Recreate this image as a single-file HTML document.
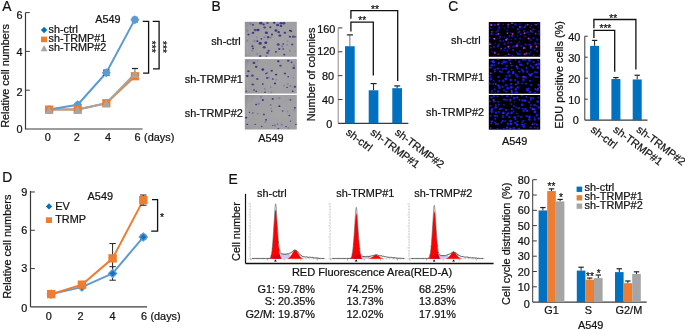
<!DOCTYPE html>
<html><head><meta charset="utf-8"><title>Figure</title>
<style>
html,body{margin:0;padding:0;background:#fff;}
body{width:685px;height:330px;overflow:hidden;}
svg{display:block;font-family:"Liberation Sans", Arial, sans-serif;}
text{stroke:#111;stroke-width:0.22px;paint-order:stroke;}
</style></head><body>
<svg width="685" height="330" viewBox="0 0 685 330">
<rect width="685" height="330" fill="#fff"/>
<text x="2.2" y="11.0" font-size="13.8" text-anchor="start" fill="#111" >A</text>
<text transform="translate(9.3,76.0) rotate(-90)" font-size="10.85" text-anchor="middle" fill="#111" >Relative cell numbers</text>
<line x1="25.5" y1="12.6" x2="25.5" y2="129.5" stroke="#3a3a3a" stroke-width="1.2" />
<line x1="25.5" y1="129.0" x2="142.6" y2="129.0" stroke="#3a3a3a" stroke-width="1.2" />
<text x="22.6" y="133.0" font-size="10.9" text-anchor="end" fill="#111" >0</text>
<line x1="25.5" y1="90.2" x2="29.8" y2="90.2" stroke="#3a3a3a" stroke-width="1" />
<text x="22.6" y="96.2" font-size="10.9" text-anchor="end" fill="#111" >2</text>
<line x1="25.5" y1="51.400000000000006" x2="29.8" y2="51.400000000000006" stroke="#3a3a3a" stroke-width="1" />
<text x="22.6" y="56.400000000000006" font-size="10.9" text-anchor="end" fill="#111" >4</text>
<line x1="25.5" y1="12.600000000000009" x2="29.8" y2="12.600000000000009" stroke="#3a3a3a" stroke-width="1" />
<text x="22.6" y="18.60000000000001" font-size="10.9" text-anchor="end" fill="#111" >6</text>
<text x="47.8" y="140.8" font-size="10.9" text-anchor="middle" fill="#111" >0</text>
<text x="76.9" y="140.8" font-size="10.9" text-anchor="middle" fill="#111" >2</text>
<text x="108.0" y="140.8" font-size="10.9" text-anchor="middle" fill="#111" >4</text>
<text x="137.5" y="140.8" font-size="10.9" text-anchor="middle" fill="#111" >6</text>
<text x="144.0" y="140.8" font-size="10.9" text-anchor="start" fill="#111" >(days)</text>
<path d="M49.10,109.60 L77.70,109.60 L106.30,103.20 L134.90,76.23" fill="none" stroke="#ed7d31" stroke-width="2" stroke-linejoin="round"/>
<path d="M49.10,109.60 L77.70,109.60 L106.30,103.20 L134.90,73.71" fill="none" stroke="#a5a5a5" stroke-width="2" stroke-linejoin="round"/>
<path d="M49.10,109.60 L77.70,104.75 L106.30,72.74 L134.90,19.39" fill="none" stroke="#5b9bd5" stroke-width="2" stroke-linejoin="round"/>
<line x1="106.30000000000001" y1="70.14000000000001" x2="106.30000000000001" y2="75.34" stroke="#2a2a2a" stroke-width="1.1" />
<line x1="103.00000000000001" y1="70.14000000000001" x2="109.60000000000001" y2="70.14000000000001" stroke="#2a2a2a" stroke-width="1.1" />
<line x1="103.00000000000001" y1="75.34" x2="109.60000000000001" y2="75.34" stroke="#2a2a2a" stroke-width="1.1" />
<line x1="134.9" y1="17.178000000000004" x2="134.9" y2="22.378000000000007" stroke="#8a8070" stroke-width="0.9" />
<line x1="131.8" y1="17.178000000000004" x2="138.0" y2="17.178000000000004" stroke="#8a8070" stroke-width="0.9" />
<line x1="131.8" y1="22.378000000000007" x2="138.0" y2="22.378000000000007" stroke="#8a8070" stroke-width="0.9" />
<path d="M49.1,105.1 L53.6,109.6 L49.1,114.1 L44.6,109.6 Z" fill="#5b9bd5" stroke="none" stroke-width="1" />
<circle cx="49.10" cy="109.60" r="3.55" fill="#5b9bd5"/>
<path d="M77.7,100.25 L82.2,104.75 L77.7,109.25 L73.2,104.75 Z" fill="#5b9bd5" stroke="none" stroke-width="1" />
<circle cx="77.70" cy="104.75" r="3.55" fill="#5b9bd5"/>
<path d="M106.30000000000001,68.24000000000001 L110.80000000000001,72.74000000000001 L106.30000000000001,77.24000000000001 L101.80000000000001,72.74000000000001 Z" fill="#5b9bd5" stroke="none" stroke-width="1" />
<circle cx="106.30" cy="72.74" r="3.55" fill="#5b9bd5"/>
<path d="M134.9,15.278000000000006 L139.4,19.778000000000006 L134.9,24.278000000000006 L130.4,19.778000000000006 Z" fill="#5b9bd5" stroke="none" stroke-width="1" />
<circle cx="134.90" cy="19.78" r="3.55" fill="#5b9bd5"/>
<rect x="45.0" y="105.5" width="8.2" height="8.2" fill="#ed7d31" />
<rect x="73.60000000000001" y="105.5" width="8.2" height="8.2" fill="#ed7d31" />
<rect x="102.20000000000002" y="99.09800000000001" width="8.2" height="8.2" fill="#ed7d31" />
<rect x="130.8" y="72.132" width="8.2" height="8.2" fill="#ed7d31" />
<line x1="134.9" y1="68.71000000000001" x2="134.9" y2="73.71000000000001" stroke="#777" stroke-width="1" />
<line x1="131.9" y1="68.51" x2="137.9" y2="68.51" stroke="#222" stroke-width="1.2" />
<path d="M49.1,105.99999999999999 L53.300000000000004,113.76999999999998 L44.9,113.76999999999998 Z" fill="#a5a5a5" stroke="none" stroke-width="1" />
<path d="M77.7,105.99999999999999 L81.9,113.76999999999998 L73.5,113.76999999999998 Z" fill="#a5a5a5" stroke="none" stroke-width="1" />
<path d="M106.30000000000001,99.598 L110.50000000000001,107.368 L102.10000000000001,107.368 Z" fill="#a5a5a5" stroke="none" stroke-width="1" />
<path d="M134.9,70.11 L139.1,77.88 L130.70000000000002,77.88 Z" fill="#a5a5a5" stroke="none" stroke-width="1" />
<path d="M44.1,26.8 L47.300000000000004,30.0 L44.1,33.2 L40.9,30.0 Z" fill="#0070c0" stroke="none" stroke-width="1" />
<rect x="41" y="36.6" width="6" height="5.6" fill="#ed7d31" />
<path d="M44.1,45.0 L47.5,51.29 L40.7,51.29 Z" fill="#a5a5a5" stroke="none" stroke-width="1" />
<text x="48.6" y="33.0" font-size="10.8" text-anchor="start" fill="#111" >sh-ctrl</text>
<text x="48.6" y="42.0" font-size="10.8" text-anchor="start" fill="#111" >sh-TRMP#1</text>
<text x="48.6" y="51.0" font-size="10.8" text-anchor="start" fill="#111" >sh-TRMP#2</text>
<text x="95.2" y="22.6" font-size="10.8" text-anchor="start" fill="#111" >A549</text>
<path d="M142.7,21.4 H148.6 V73.2 H143.1" fill="none" stroke="#111" stroke-width="1.3" />
<path d="M152.7,21.4 H159.1 V68.9 H153" fill="none" stroke="#111" stroke-width="1.3" />
<text transform="translate(148.3,40.8) rotate(90)" font-size="10.2" text-anchor="start" fill="#111" stroke="#1a1a1a" stroke-width="0.35">***</text>
<text transform="translate(158.9,41.0) rotate(90)" font-size="10.2" text-anchor="start" fill="#111" stroke="#1a1a1a" stroke-width="0.35">***</text>
<text x="211.4" y="10.9" font-size="13.8" text-anchor="start" fill="#111" >B</text>
<text x="240.8" y="45.2" font-size="10.9" text-anchor="end" fill="#111" >sh-ctrl</text>
<text x="242.8" y="82.9" font-size="10.9" text-anchor="end" fill="#111" >sh-TRMP#1</text>
<text x="242.8" y="117.4" font-size="10.9" text-anchor="end" fill="#111" >sh-TRMP#2</text>
<text x="270.9" y="142.3" font-size="10.9" text-anchor="middle" fill="#111" >A549</text>
<defs><filter id="blur1" x="-20%" y="-20%" width="140%" height="140%"><feGaussianBlur stdDeviation="0.45"/></filter><filter id="blur2" x="-20%" y="-20%" width="140%" height="140%"><feGaussianBlur stdDeviation="0.3"/></filter><radialGradient id="plate" cx="0.62" cy="0.55" r="0.75"><stop offset="0" stop-color="#a5a5a8"/><stop offset="0.8" stop-color="#9f9fa2"/><stop offset="1" stop-color="#939397"/></radialGradient></defs>
<defs><clipPath id="clipC1"><rect x="244.8" y="21.8" width="52" height="35"/></clipPath></defs>
<rect x="244.8" y="21.8" width="52" height="35" fill="url(#plate)" />
<path d="M247.8,54.8 Q245.8,39.3 249.8,23.8" fill="none" stroke="#b0b0b3" stroke-width="0.7" opacity="0.45"/>
<g clip-path="url(#clipC1)"><g filter="url(#blur1)"><circle cx="252.5" cy="50.8" r="1.1" fill="#6c64a8" opacity="0.44"/><circle cx="270.6" cy="37.6" r="1.1" fill="#6c64a8" opacity="0.63"/><circle cx="250.5" cy="23.7" r="1.2" fill="#6c64a8" opacity="0.50"/><circle cx="283.9" cy="22.9" r="0.9" fill="#6c64a8" opacity="0.60"/><circle cx="257.2" cy="54.0" r="1.2" fill="#6c64a8" opacity="0.36"/><circle cx="247.1" cy="40.7" r="1.3" fill="#6c64a8" opacity="0.48"/><circle cx="256.6" cy="36.7" r="0.6" fill="#6c64a8" opacity="0.43"/><circle cx="267.7" cy="39.2" r="0.8" fill="#6c64a8" opacity="0.43"/><circle cx="256.7" cy="38.0" r="0.8" fill="#6c64a8" opacity="0.36"/><circle cx="287.7" cy="41.2" r="1.0" fill="#6c64a8" opacity="0.42"/><circle cx="295.4" cy="51.2" r="0.7" fill="#6c64a8" opacity="0.47"/><circle cx="281.9" cy="46.3" r="1.3" fill="#6c64a8" opacity="0.50"/><circle cx="287.3" cy="44.9" r="0.8" fill="#6c64a8" opacity="0.56"/><circle cx="289.9" cy="50.7" r="1.0" fill="#6c64a8" opacity="0.56"/><circle cx="247.5" cy="30.8" r="1.2" fill="#6c64a8" opacity="0.50"/><circle cx="254.5" cy="40.9" r="1.1" fill="#6c64a8" opacity="0.59"/><circle cx="264.5" cy="37.3" r="1.0" fill="#6c64a8" opacity="0.62"/><circle cx="271.8" cy="35.8" r="0.9" fill="#6c64a8" opacity="0.36"/><ellipse cx="253.0" cy="24.9" rx="0.98" ry="0.79" fill="#30267f" opacity="0.88"/><ellipse cx="260.8" cy="23.2" rx="1.67" ry="1.35" fill="#30267f" opacity="0.85"/><ellipse cx="267.5" cy="23.0" rx="1.23" ry="1.00" fill="#30267f" opacity="0.74"/><ellipse cx="274.2" cy="22.7" rx="1.31" ry="1.06" fill="#30267f" opacity="0.95"/><ellipse cx="281.0" cy="23.2" rx="1.51" ry="1.22" fill="#30267f" opacity="0.83"/><ellipse cx="283.8" cy="23.2" rx="1.58" ry="1.28" fill="#30267f" opacity="0.76"/><ellipse cx="281.0" cy="26.0" rx="1.32" ry="1.07" fill="#30267f" opacity="0.94"/><ellipse cx="264.7" cy="27.5" rx="1.37" ry="1.11" fill="#30267f" opacity="0.81"/><ellipse cx="270.3" cy="27.2" rx="1.14" ry="0.93" fill="#30267f" opacity="0.84"/><ellipse cx="255.2" cy="30.0" rx="1.65" ry="1.33" fill="#30267f" opacity="0.70"/><ellipse cx="258.0" cy="30.0" rx="1.52" ry="1.23" fill="#30267f" opacity="0.91"/><ellipse cx="266.4" cy="32.8" rx="1.60" ry="1.29" fill="#30267f" opacity="0.89"/><ellipse cx="275.9" cy="30.5" rx="1.54" ry="1.25" fill="#30267f" opacity="0.83"/><ellipse cx="278.7" cy="32.2" rx="1.36" ry="1.10" fill="#30267f" opacity="0.81"/><ellipse cx="289.9" cy="30.5" rx="0.99" ry="0.80" fill="#30267f" opacity="0.92"/><ellipse cx="291.0" cy="31.1" rx="1.36" ry="1.10" fill="#30267f" opacity="0.75"/><ellipse cx="284.9" cy="32.8" rx="1.32" ry="1.07" fill="#30267f" opacity="0.82"/><ellipse cx="248.5" cy="34.4" rx="1.21" ry="0.98" fill="#30267f" opacity="0.79"/><ellipse cx="253.0" cy="32.8" rx="1.34" ry="1.09" fill="#30267f" opacity="0.86"/><ellipse cx="268.1" cy="37.2" rx="1.40" ry="1.13" fill="#30267f" opacity="0.81"/><ellipse cx="261.4" cy="38.9" rx="0.97" ry="0.78" fill="#30267f" opacity="0.76"/><ellipse cx="257.4" cy="41.2" rx="1.08" ry="0.87" fill="#30267f" opacity="0.85"/><ellipse cx="260.2" cy="43.4" rx="1.58" ry="1.28" fill="#30267f" opacity="0.90"/><ellipse cx="265.8" cy="42.8" rx="1.53" ry="1.24" fill="#30267f" opacity="0.90"/><ellipse cx="289.9" cy="36.7" rx="1.13" ry="0.92" fill="#30267f" opacity="0.91"/><ellipse cx="293.3" cy="36.7" rx="1.44" ry="1.17" fill="#30267f" opacity="0.72"/><ellipse cx="295.5" cy="36.7" rx="0.96" ry="0.77" fill="#30267f" opacity="0.70"/><ellipse cx="278.2" cy="44.5" rx="1.50" ry="1.21" fill="#30267f" opacity="0.76"/><ellipse cx="283.2" cy="44.0" rx="1.03" ry="0.83" fill="#30267f" opacity="0.86"/><ellipse cx="292.2" cy="44.5" rx="1.20" ry="0.97" fill="#30267f" opacity="0.72"/><ellipse cx="252.4" cy="46.2" rx="1.06" ry="0.86" fill="#30267f" opacity="0.83"/><ellipse cx="253.0" cy="48.4" rx="1.07" ry="0.87" fill="#30267f" opacity="0.77"/><ellipse cx="264.2" cy="47.3" rx="1.47" ry="1.19" fill="#30267f" opacity="0.81"/><ellipse cx="279.3" cy="49.0" rx="1.18" ry="0.96" fill="#30267f" opacity="0.82"/><ellipse cx="283.2" cy="49.0" rx="0.96" ry="0.78" fill="#30267f" opacity="0.80"/><ellipse cx="268.6" cy="50.7" rx="1.25" ry="1.02" fill="#30267f" opacity="0.75"/><ellipse cx="275.9" cy="51.8" rx="1.02" ry="0.83" fill="#30267f" opacity="0.92"/><ellipse cx="267.5" cy="52.9" rx="1.32" ry="1.07" fill="#30267f" opacity="0.75"/><ellipse cx="260.2" cy="56.3" rx="1.39" ry="1.13" fill="#30267f" opacity="0.90"/><ellipse cx="266.4" cy="56.3" rx="0.96" ry="0.78" fill="#30267f" opacity="0.70"/><ellipse cx="284.3" cy="54.6" rx="1.05" ry="0.85" fill="#30267f" opacity="0.88"/><ellipse cx="272.0" cy="34.4" rx="1.06" ry="0.86" fill="#30267f" opacity="0.88"/><ellipse cx="279.8" cy="35.6" rx="1.44" ry="1.17" fill="#30267f" opacity="0.84"/><ellipse cx="263.6" cy="24.4" rx="1.11" ry="0.90" fill="#30267f" opacity="0.94"/><ellipse cx="277.6" cy="24.9" rx="1.53" ry="1.24" fill="#30267f" opacity="0.83"/></g></g>
<defs><clipPath id="clipC2"><rect x="244.8" y="59.1" width="52" height="34.5"/></clipPath></defs>
<rect x="244.8" y="59.1" width="52" height="34.5" fill="url(#plate)" />
<path d="M247.8,91.6 Q245.8,76.3 249.8,61.1" fill="none" stroke="#b0b0b3" stroke-width="0.7" opacity="0.45"/>
<g clip-path="url(#clipC2)"><g filter="url(#blur1)"><circle cx="293.6" cy="90.9" r="0.6" fill="#6c64a8" opacity="0.38"/><circle cx="287.6" cy="84.0" r="1.1" fill="#6c64a8" opacity="0.46"/><circle cx="276.1" cy="79.8" r="1.0" fill="#6c64a8" opacity="0.41"/><circle cx="267.3" cy="72.9" r="1.1" fill="#6c64a8" opacity="0.70"/><circle cx="293.3" cy="77.8" r="0.9" fill="#6c64a8" opacity="0.44"/><circle cx="247.6" cy="61.0" r="0.9" fill="#6c64a8" opacity="0.46"/><circle cx="264.8" cy="89.1" r="1.0" fill="#6c64a8" opacity="0.55"/><circle cx="257.6" cy="60.9" r="0.8" fill="#6c64a8" opacity="0.40"/><circle cx="271.3" cy="92.6" r="1.1" fill="#6c64a8" opacity="0.41"/><circle cx="290.5" cy="86.0" r="1.1" fill="#6c64a8" opacity="0.67"/><circle cx="283.9" cy="85.8" r="0.8" fill="#6c64a8" opacity="0.69"/><circle cx="293.9" cy="65.3" r="1.1" fill="#6c64a8" opacity="0.60"/><circle cx="268.9" cy="77.3" r="0.9" fill="#6c64a8" opacity="0.67"/><circle cx="270.8" cy="87.1" r="0.8" fill="#6c64a8" opacity="0.66"/><ellipse cx="254.0" cy="62.9" rx="1.41" ry="1.14" fill="#30267f" opacity="0.82"/><ellipse cx="278.3" cy="61.3" rx="1.20" ry="0.97" fill="#30267f" opacity="0.93"/><ellipse cx="288.2" cy="60.7" rx="1.30" ry="1.05" fill="#30267f" opacity="0.82"/><ellipse cx="291.6" cy="62.4" rx="0.98" ry="0.79" fill="#30267f" opacity="0.78"/><ellipse cx="280.5" cy="65.7" rx="1.28" ry="1.04" fill="#30267f" opacity="0.74"/><ellipse cx="293.8" cy="68.0" rx="1.41" ry="1.14" fill="#30267f" opacity="0.77"/><ellipse cx="256.2" cy="66.8" rx="1.41" ry="1.14" fill="#30267f" opacity="0.78"/><ellipse cx="262.8" cy="69.5" rx="1.44" ry="1.17" fill="#30267f" opacity="0.88"/><ellipse cx="271.7" cy="70.8" rx="1.16" ry="0.94" fill="#30267f" opacity="0.83"/><ellipse cx="248.4" cy="71.3" rx="1.25" ry="1.01" fill="#30267f" opacity="0.85"/><ellipse cx="266.1" cy="73.5" rx="1.04" ry="0.84" fill="#30267f" opacity="0.75"/><ellipse cx="276.1" cy="74.6" rx="1.16" ry="0.94" fill="#30267f" opacity="0.93"/><ellipse cx="284.9" cy="73.5" rx="1.23" ry="1.00" fill="#30267f" opacity="0.72"/><ellipse cx="247.3" cy="76.1" rx="1.36" ry="1.10" fill="#30267f" opacity="0.88"/><ellipse cx="252.4" cy="75.7" rx="1.41" ry="1.14" fill="#30267f" opacity="0.75"/><ellipse cx="257.3" cy="79.0" rx="1.31" ry="1.06" fill="#30267f" opacity="0.71"/><ellipse cx="267.2" cy="77.9" rx="1.25" ry="1.01" fill="#30267f" opacity="0.77"/><ellipse cx="272.8" cy="79.0" rx="0.98" ry="0.80" fill="#30267f" opacity="0.92"/><ellipse cx="288.2" cy="76.8" rx="0.91" ry="0.73" fill="#30267f" opacity="0.83"/><ellipse cx="252.8" cy="84.5" rx="1.38" ry="1.12" fill="#30267f" opacity="0.76"/><ellipse cx="262.8" cy="84.1" rx="0.97" ry="0.79" fill="#30267f" opacity="0.92"/><ellipse cx="275.0" cy="83.4" rx="1.11" ry="0.90" fill="#30267f" opacity="0.88"/><ellipse cx="287.1" cy="87.4" rx="0.86" ry="0.70" fill="#30267f" opacity="0.79"/><ellipse cx="254.0" cy="90.1" rx="0.95" ry="0.77" fill="#30267f" opacity="0.87"/><ellipse cx="256.2" cy="91.2" rx="0.89" ry="0.72" fill="#30267f" opacity="0.94"/><ellipse cx="265.0" cy="92.3" rx="0.86" ry="0.69" fill="#30267f" opacity="0.88"/><ellipse cx="246.2" cy="91.2" rx="0.85" ry="0.69" fill="#30267f" opacity="0.76"/><ellipse cx="294.9" cy="86.8" rx="1.35" ry="1.09" fill="#30267f" opacity="0.74"/><ellipse cx="292.7" cy="91.2" rx="0.96" ry="0.77" fill="#30267f" opacity="0.87"/></g></g>
<defs><clipPath id="clipC3"><rect x="244.8" y="95.0" width="52" height="34.5"/></clipPath></defs>
<rect x="244.8" y="95.0" width="52" height="34.5" fill="url(#plate)" />
<path d="M247.8,127.5 Q245.8,112.2 249.8,97.0" fill="none" stroke="#b0b0b3" stroke-width="0.7" opacity="0.45"/>
<g clip-path="url(#clipC3)"><g filter="url(#blur1)"><circle cx="257.7" cy="113.7" r="0.9" fill="#6c64a8" opacity="0.56"/><circle cx="277.1" cy="98.1" r="0.6" fill="#6c64a8" opacity="0.64"/><circle cx="258.8" cy="103.6" r="1.3" fill="#6c64a8" opacity="0.51"/><circle cx="287.6" cy="111.5" r="1.0" fill="#6c64a8" opacity="0.40"/><circle cx="277.5" cy="124.2" r="1.0" fill="#6c64a8" opacity="0.61"/><circle cx="279.4" cy="98.1" r="1.1" fill="#6c64a8" opacity="0.56"/><circle cx="260.9" cy="97.0" r="1.2" fill="#6c64a8" opacity="0.52"/><circle cx="281.7" cy="124.6" r="1.1" fill="#6c64a8" opacity="0.67"/><circle cx="265.5" cy="122.0" r="0.9" fill="#6c64a8" opacity="0.68"/><circle cx="289.7" cy="99.2" r="0.7" fill="#6c64a8" opacity="0.43"/><circle cx="294.1" cy="110.2" r="1.0" fill="#6c64a8" opacity="0.46"/><circle cx="271.2" cy="108.5" r="0.8" fill="#6c64a8" opacity="0.55"/><circle cx="275.0" cy="125.4" r="1.1" fill="#6c64a8" opacity="0.68"/><circle cx="288.6" cy="128.2" r="1.1" fill="#6c64a8" opacity="0.41"/><ellipse cx="262.8" cy="100.0" rx="1.08" ry="0.88" fill="#30267f" opacity="0.94"/><ellipse cx="272.8" cy="98.9" rx="1.10" ry="0.89" fill="#30267f" opacity="0.84"/><ellipse cx="290.5" cy="100.0" rx="1.00" ry="0.81" fill="#30267f" opacity="0.75"/><ellipse cx="256.2" cy="104.5" rx="1.07" ry="0.86" fill="#30267f" opacity="0.84"/><ellipse cx="270.5" cy="104.9" rx="0.78" ry="0.63" fill="#30267f" opacity="0.72"/><ellipse cx="279.4" cy="106.2" rx="1.08" ry="0.87" fill="#30267f" opacity="0.95"/><ellipse cx="249.5" cy="112.2" rx="0.68" ry="0.55" fill="#30267f" opacity="0.90"/><ellipse cx="252.8" cy="112.9" rx="0.85" ry="0.68" fill="#30267f" opacity="0.74"/><ellipse cx="271.7" cy="111.1" rx="0.78" ry="0.63" fill="#30267f" opacity="0.89"/><ellipse cx="263.9" cy="114.4" rx="1.09" ry="0.88" fill="#30267f" opacity="0.71"/><ellipse cx="282.7" cy="111.1" rx="0.95" ry="0.77" fill="#30267f" opacity="0.71"/><ellipse cx="289.4" cy="115.5" rx="1.01" ry="0.82" fill="#30267f" opacity="0.78"/><ellipse cx="246.2" cy="117.7" rx="1.09" ry="0.88" fill="#30267f" opacity="0.95"/><ellipse cx="247.3" cy="124.4" rx="0.90" ry="0.72" fill="#30267f" opacity="0.95"/><ellipse cx="255.1" cy="124.4" rx="0.79" ry="0.64" fill="#30267f" opacity="0.72"/><ellipse cx="261.7" cy="126.6" rx="0.94" ry="0.76" fill="#30267f" opacity="0.71"/><ellipse cx="272.8" cy="125.5" rx="0.73" ry="0.59" fill="#30267f" opacity="0.80"/><ellipse cx="278.3" cy="128.8" rx="0.95" ry="0.77" fill="#30267f" opacity="0.74"/><ellipse cx="290.5" cy="121.1" rx="0.65" ry="0.53" fill="#30267f" opacity="0.92"/><ellipse cx="286.0" cy="126.6" rx="0.79" ry="0.64" fill="#30267f" opacity="0.94"/><ellipse cx="294.9" cy="107.8" rx="1.10" ry="0.89" fill="#30267f" opacity="0.79"/><ellipse cx="296.0" cy="124.4" rx="0.87" ry="0.71" fill="#30267f" opacity="0.83"/><ellipse cx="266.1" cy="119.9" rx="0.97" ry="0.78" fill="#30267f" opacity="0.85"/></g></g>
<line x1="338.2" y1="27.9" x2="338.2" y2="123.4" stroke="#8c8c8c" stroke-width="1" />
<line x1="338.2" y1="123.4" x2="408.4" y2="123.4" stroke="#3a3a3a" stroke-width="1.2" />
<text x="332.4" y="128.0" font-size="10.9" text-anchor="end" fill="#111" >0</text>
<line x1="338.2" y1="99.525" x2="342.4" y2="99.525" stroke="#3a3a3a" stroke-width="1" />
<text x="334.2" y="104.125" font-size="10.9" text-anchor="end" fill="#111" >40</text>
<line x1="338.2" y1="75.65" x2="342.4" y2="75.65" stroke="#3a3a3a" stroke-width="1" />
<text x="334.2" y="80.25" font-size="10.9" text-anchor="end" fill="#111" >80</text>
<line x1="338.2" y1="51.775000000000006" x2="342.4" y2="51.775000000000006" stroke="#3a3a3a" stroke-width="1" />
<text x="335.4" y="55.37500000000001" font-size="10.9" text-anchor="end" fill="#111" >120</text>
<line x1="338.2" y1="27.900000000000006" x2="342.4" y2="27.900000000000006" stroke="#3a3a3a" stroke-width="1" />
<text x="335.4" y="32.50000000000001" font-size="10.9" text-anchor="end" fill="#111" >160</text>
<text transform="translate(314.6,74.4) rotate(-90)" font-size="10.9" text-anchor="middle" fill="#111" >Number of colonies</text>
<line x1="349.85" y1="34.883437499999985" x2="349.85" y2="46.22406249999999" stroke="#777" stroke-width="1" />
<line x1="346.9" y1="34.883437499999985" x2="352.9" y2="34.883437499999985" stroke="#222" stroke-width="1.2" />
<rect x="345.0" y="46.22406249999999" width="9.7" height="77.17593750000002" fill="#0070c0" />
<line x1="373.55" y1="83.5884375" x2="373.55" y2="90.2734375" stroke="#222" stroke-width="1" />
<line x1="370.59999999999997" y1="83.5884375" x2="376.59999999999997" y2="83.5884375" stroke="#222" stroke-width="1.2" />
<rect x="368.7" y="90.2734375" width="9.7" height="33.126562500000006" fill="#0070c0" />
<line x1="397.15000000000003" y1="85.91625" x2="397.15000000000003" y2="88.184375" stroke="#222" stroke-width="1" />
<line x1="394.2" y1="85.91625" x2="400.2" y2="85.91625" stroke="#222" stroke-width="1.2" />
<rect x="392.3" y="88.184375" width="9.7" height="35.215625" fill="#0070c0" />
<path d="M350.9,31.5 V22.1 H373.3 V75.5" fill="none" stroke="#111" stroke-width="1.3" />
<path d="M350.9,18.8 V10.7 H397.7 V80.9" fill="none" stroke="#111" stroke-width="1.3" />
<text x="362.2" y="24.2" font-size="10.2" text-anchor="middle" fill="#111" stroke="#1a1a1a" stroke-width="0.3">**</text>
<text x="374.9" y="13.0" font-size="10.2" text-anchor="middle" fill="#111" stroke="#1a1a1a" stroke-width="0.3">**</text>
<text transform="translate(345.2,133.8) rotate(37)" font-size="10.9" text-anchor="start" fill="#111" >sh-ctrl</text>
<text transform="translate(369.8,133.8) rotate(37)" font-size="10.9" text-anchor="start" fill="#111" >sh-TRMP#1</text>
<text transform="translate(394.2,133.8) rotate(37)" font-size="10.9" text-anchor="start" fill="#111" >sh-TRMP#2</text>
<text x="448.3" y="10.9" font-size="13.8" text-anchor="start" fill="#111" >C</text>
<text x="480.6" y="43.6" font-size="10.9" text-anchor="end" fill="#111" >sh-ctrl</text>
<text x="484.0" y="81.3" font-size="10.9" text-anchor="end" fill="#111" >sh-TRMP#1</text>
<text x="484.2" y="115.7" font-size="10.9" text-anchor="end" fill="#111" >sh-TRMP#2</text>
<text x="514.6" y="145.0" font-size="10.9" text-anchor="middle" fill="#111" >A549</text>
<defs><clipPath id="clipE11"><rect x="488.8" y="22.0" width="51.4" height="34.8"/></clipPath></defs>
<rect x="488.8" y="22.0" width="51.4" height="34.8" fill="#000004" />
<g clip-path="url(#clipE11)"><g filter="url(#blur2)"><ellipse cx="491.1" cy="25.2" rx="1.09" ry="1.01" fill="#2020f8" opacity="0.71"/><ellipse cx="491.0" cy="28.2" rx="1.25" ry="0.98" fill="#2020f8" opacity="0.61"/><ellipse cx="491.6" cy="34.1" rx="1.34" ry="1.46" fill="#2020f8" opacity="0.73"/><ellipse cx="489.8" cy="37.9" rx="1.12" ry="0.86" fill="#2020f8" opacity="0.57"/><ellipse cx="489.3" cy="43.2" rx="1.07" ry="1.12" fill="#2020f8" opacity="0.68"/><ellipse cx="490.9" cy="47.6" rx="1.08" ry="0.92" fill="#2020f8" opacity="0.85"/><ellipse cx="492.1" cy="51.6" rx="1.01" ry="0.84" fill="#2020f8" opacity="0.60"/><ellipse cx="494.9" cy="25.0" rx="1.05" ry="1.14" fill="#2020f8" opacity="0.80"/><ellipse cx="496.6" cy="31.6" rx="1.34" ry="1.19" fill="#2020f8" opacity="0.53"/><ellipse cx="496.2" cy="34.8" rx="0.90" ry="0.78" fill="#2020f8" opacity="0.84"/><ellipse cx="493.9" cy="38.6" rx="0.91" ry="0.70" fill="#2020f8" opacity="0.78"/><ellipse cx="495.4" cy="43.1" rx="0.95" ry="0.96" fill="#2020f8" opacity="0.55"/><ellipse cx="493.9" cy="46.9" rx="0.96" ry="0.81" fill="#2020f8" opacity="0.84"/><ellipse cx="494.6" cy="52.2" rx="0.96" ry="0.85" fill="#2020f8" opacity="0.80"/><ellipse cx="493.9" cy="56.4" rx="0.96" ry="0.81" fill="#2020f8" opacity="0.77"/><ellipse cx="498.8" cy="22.6" rx="0.90" ry="0.86" fill="#2020f8" opacity="0.59"/><ellipse cx="499.1" cy="27.7" rx="1.33" ry="1.22" fill="#2020f8" opacity="0.70"/><ellipse cx="498.4" cy="30.6" rx="1.30" ry="1.35" fill="#2020f8" opacity="0.59"/><ellipse cx="500.3" cy="36.9" rx="0.95" ry="1.03" fill="#2020f8" opacity="0.81"/><ellipse cx="499.2" cy="38.2" rx="0.87" ry="0.95" fill="#2020f8" opacity="0.58"/><ellipse cx="498.7" cy="44.3" rx="1.15" ry="0.98" fill="#2020f8" opacity="0.56"/><ellipse cx="498.0" cy="46.3" rx="1.13" ry="1.19" fill="#2020f8" opacity="0.72"/><ellipse cx="500.9" cy="50.1" rx="0.86" ry="0.73" fill="#2020f8" opacity="0.66"/><ellipse cx="503.3" cy="24.2" rx="0.92" ry="0.81" fill="#2020f8" opacity="0.81"/><ellipse cx="504.3" cy="28.4" rx="1.14" ry="0.91" fill="#2020f8" opacity="0.51"/><ellipse cx="504.5" cy="37.0" rx="0.87" ry="0.84" fill="#2020f8" opacity="0.67"/><ellipse cx="503.2" cy="40.9" rx="0.89" ry="0.84" fill="#2020f8" opacity="0.76"/><ellipse cx="504.6" cy="43.9" rx="1.25" ry="1.34" fill="#2020f8" opacity="0.62"/><ellipse cx="505.2" cy="48.3" rx="1.06" ry="1.09" fill="#2020f8" opacity="0.80"/><ellipse cx="504.2" cy="50.6" rx="1.14" ry="1.10" fill="#2020f8" opacity="0.53"/><ellipse cx="505.5" cy="56.0" rx="1.22" ry="1.08" fill="#2020f8" opacity="0.76"/><ellipse cx="507.9" cy="25.0" rx="0.90" ry="0.91" fill="#2020f8" opacity="0.51"/><ellipse cx="508.0" cy="27.0" rx="1.20" ry="1.11" fill="#2020f8" opacity="0.72"/><ellipse cx="507.2" cy="30.2" rx="1.00" ry="0.99" fill="#2020f8" opacity="0.57"/><ellipse cx="509.5" cy="36.0" rx="1.07" ry="1.14" fill="#2020f8" opacity="0.61"/><ellipse cx="507.0" cy="39.2" rx="1.25" ry="1.34" fill="#2020f8" opacity="0.81"/><ellipse cx="508.4" cy="42.7" rx="0.92" ry="0.85" fill="#2020f8" opacity="0.79"/><ellipse cx="508.8" cy="48.5" rx="0.99" ry="0.80" fill="#2020f8" opacity="0.66"/><ellipse cx="507.1" cy="50.7" rx="1.16" ry="1.07" fill="#2020f8" opacity="0.61"/><ellipse cx="509.7" cy="54.7" rx="0.89" ry="0.68" fill="#2020f8" opacity="0.81"/><ellipse cx="512.6" cy="27.2" rx="1.25" ry="0.94" fill="#2020f8" opacity="0.55"/><ellipse cx="510.7" cy="32.7" rx="0.97" ry="0.78" fill="#2020f8" opacity="0.52"/><ellipse cx="512.2" cy="35.9" rx="1.18" ry="1.22" fill="#2020f8" opacity="0.84"/><ellipse cx="511.3" cy="39.3" rx="0.94" ry="0.71" fill="#2020f8" opacity="0.67"/><ellipse cx="511.3" cy="42.6" rx="1.03" ry="1.02" fill="#2020f8" opacity="0.68"/><ellipse cx="513.2" cy="46.8" rx="1.25" ry="1.33" fill="#2020f8" opacity="0.53"/><ellipse cx="513.1" cy="49.9" rx="1.08" ry="1.05" fill="#2020f8" opacity="0.82"/><ellipse cx="512.6" cy="56.0" rx="1.25" ry="1.35" fill="#2020f8" opacity="0.66"/><ellipse cx="515.6" cy="24.6" rx="1.26" ry="1.23" fill="#2020f8" opacity="0.75"/><ellipse cx="518.0" cy="29.3" rx="1.34" ry="1.26" fill="#2020f8" opacity="0.78"/><ellipse cx="518.0" cy="32.8" rx="1.03" ry="0.80" fill="#2020f8" opacity="0.65"/><ellipse cx="517.6" cy="35.5" rx="0.87" ry="0.90" fill="#2020f8" opacity="0.52"/><ellipse cx="515.5" cy="38.9" rx="1.25" ry="0.99" fill="#2020f8" opacity="0.55"/><ellipse cx="517.4" cy="44.3" rx="1.20" ry="1.29" fill="#2020f8" opacity="0.67"/><ellipse cx="515.2" cy="46.3" rx="1.12" ry="0.95" fill="#2020f8" opacity="0.76"/><ellipse cx="516.7" cy="52.1" rx="1.13" ry="0.97" fill="#2020f8" opacity="0.63"/><ellipse cx="518.0" cy="54.0" rx="1.28" ry="1.39" fill="#2020f8" opacity="0.68"/><ellipse cx="519.9" cy="24.0" rx="1.10" ry="1.06" fill="#2020f8" opacity="0.51"/><ellipse cx="521.0" cy="27.5" rx="1.25" ry="1.19" fill="#2020f8" opacity="0.67"/><ellipse cx="519.4" cy="31.8" rx="1.06" ry="1.15" fill="#2020f8" opacity="0.82"/><ellipse cx="520.8" cy="34.4" rx="1.07" ry="1.11" fill="#2020f8" opacity="0.82"/><ellipse cx="520.3" cy="38.4" rx="1.16" ry="1.25" fill="#2020f8" opacity="0.55"/><ellipse cx="519.3" cy="42.3" rx="0.97" ry="0.96" fill="#2020f8" opacity="0.61"/><ellipse cx="521.3" cy="45.9" rx="1.22" ry="0.96" fill="#2020f8" opacity="0.68"/><ellipse cx="519.9" cy="51.1" rx="1.07" ry="0.94" fill="#2020f8" opacity="0.64"/><ellipse cx="519.8" cy="54.0" rx="1.17" ry="1.14" fill="#2020f8" opacity="0.69"/><ellipse cx="525.6" cy="25.0" rx="0.97" ry="0.98" fill="#2020f8" opacity="0.78"/><ellipse cx="524.6" cy="27.2" rx="1.31" ry="1.08" fill="#2020f8" opacity="0.85"/><ellipse cx="524.0" cy="30.9" rx="1.21" ry="1.02" fill="#2020f8" opacity="0.53"/><ellipse cx="524.9" cy="36.4" rx="0.92" ry="0.82" fill="#2020f8" opacity="0.74"/><ellipse cx="525.8" cy="44.5" rx="1.33" ry="1.05" fill="#2020f8" opacity="0.68"/><ellipse cx="525.2" cy="47.7" rx="0.95" ry="0.73" fill="#2020f8" opacity="0.54"/><ellipse cx="525.3" cy="55.1" rx="0.93" ry="0.76" fill="#2020f8" opacity="0.57"/><ellipse cx="531.2" cy="25.3" rx="0.90" ry="0.70" fill="#2020f8" opacity="0.83"/><ellipse cx="530.4" cy="27.3" rx="1.09" ry="1.01" fill="#2020f8" opacity="0.65"/><ellipse cx="527.8" cy="32.3" rx="1.27" ry="1.04" fill="#2020f8" opacity="0.66"/><ellipse cx="529.2" cy="34.6" rx="0.94" ry="0.87" fill="#2020f8" opacity="0.51"/><ellipse cx="530.5" cy="40.0" rx="1.28" ry="1.24" fill="#2020f8" opacity="0.64"/><ellipse cx="529.5" cy="44.8" rx="1.25" ry="1.05" fill="#2020f8" opacity="0.82"/><ellipse cx="530.4" cy="48.1" rx="1.06" ry="1.12" fill="#2020f8" opacity="0.81"/><ellipse cx="530.4" cy="51.8" rx="1.06" ry="1.06" fill="#2020f8" opacity="0.52"/><ellipse cx="529.4" cy="53.4" rx="1.03" ry="1.00" fill="#2020f8" opacity="0.72"/><ellipse cx="535.3" cy="24.4" rx="1.02" ry="1.00" fill="#2020f8" opacity="0.70"/><ellipse cx="533.4" cy="29.3" rx="1.17" ry="1.17" fill="#2020f8" opacity="0.77"/><ellipse cx="532.1" cy="32.0" rx="1.22" ry="1.03" fill="#2020f8" opacity="0.64"/><ellipse cx="533.3" cy="38.2" rx="0.98" ry="1.04" fill="#2020f8" opacity="0.69"/><ellipse cx="535.4" cy="43.5" rx="1.35" ry="1.31" fill="#2020f8" opacity="0.78"/><ellipse cx="534.7" cy="49.6" rx="1.32" ry="1.06" fill="#2020f8" opacity="0.67"/><ellipse cx="533.8" cy="55.2" rx="0.88" ry="0.96" fill="#2020f8" opacity="0.65"/><ellipse cx="538.4" cy="23.5" rx="1.00" ry="0.98" fill="#2020f8" opacity="0.70"/><ellipse cx="538.8" cy="27.2" rx="0.86" ry="0.72" fill="#2020f8" opacity="0.51"/><ellipse cx="538.9" cy="31.3" rx="1.30" ry="1.31" fill="#2020f8" opacity="0.52"/><ellipse cx="539.6" cy="34.2" rx="1.30" ry="1.17" fill="#2020f8" opacity="0.67"/><ellipse cx="537.2" cy="39.5" rx="1.32" ry="1.32" fill="#2020f8" opacity="0.66"/><ellipse cx="539.1" cy="43.6" rx="0.91" ry="0.88" fill="#2020f8" opacity="0.66"/><ellipse cx="536.5" cy="47.2" rx="0.92" ry="0.83" fill="#2020f8" opacity="0.73"/><ellipse cx="537.2" cy="51.3" rx="1.06" ry="1.09" fill="#2020f8" opacity="0.69"/><ellipse cx="539.6" cy="55.6" rx="0.97" ry="0.77" fill="#2020f8" opacity="0.81"/><circle cx="507.5" cy="33.2" r="0.85" fill="#e232cc" opacity="0.79"/><circle cx="498.1" cy="24.6" r="1.00" fill="#e232cc" opacity="0.90"/><circle cx="490.0" cy="44.2" r="1.02" fill="#e232cc" opacity="0.84"/><circle cx="530.8" cy="30.8" r="0.87" fill="#e232cc" opacity="0.73"/><circle cx="494.3" cy="38.7" r="0.96" fill="#e232cc" opacity="0.95"/><circle cx="506.1" cy="39.7" r="1.00" fill="#e232cc" opacity="0.93"/><circle cx="536.1" cy="24.8" r="0.74" fill="#e232cc" opacity="0.91"/><circle cx="512.0" cy="23.2" r="0.93" fill="#e232cc" opacity="0.80"/><circle cx="508.2" cy="24.4" r="1.01" fill="#e232cc" opacity="0.67"/><circle cx="498.1" cy="54.2" r="0.73" fill="#e232cc" opacity="0.74"/><circle cx="508.5" cy="54.4" r="0.81" fill="#e232cc" opacity="0.69"/><circle cx="535.7" cy="33.7" r="0.85" fill="#e232cc" opacity="0.69"/><circle cx="508.4" cy="46.7" r="1.07" fill="#e232cc" opacity="0.93"/><circle cx="494.9" cy="53.0" r="1.02" fill="#e232cc" opacity="0.74"/><circle cx="491.4" cy="24.9" r="1.07" fill="#e232cc" opacity="0.92"/><circle cx="527.7" cy="24.7" r="0.85" fill="#e232cc" opacity="0.76"/><circle cx="491.9" cy="31.8" r="0.78" fill="#e232cc" opacity="0.82"/><circle cx="530.9" cy="46.6" r="1.03" fill="#e232cc" opacity="0.82"/><circle cx="512.6" cy="33.9" r="1.05" fill="#e232cc" opacity="0.73"/><circle cx="526.4" cy="53.4" r="0.92" fill="#e232cc" opacity="0.82"/><circle cx="524.6" cy="54.2" r="1.02" fill="#e232cc" opacity="0.67"/><circle cx="500.1" cy="41.0" r="0.73" fill="#e232cc" opacity="0.67"/><circle cx="501.2" cy="48.6" r="0.73" fill="#e232cc" opacity="0.84"/><circle cx="519.8" cy="26.8" r="0.96" fill="#e232cc" opacity="0.72"/><circle cx="498.2" cy="33.9" r="0.91" fill="#e232cc" opacity="0.88"/><circle cx="528.6" cy="38.5" r="1.09" fill="#e232cc" opacity="0.85"/><circle cx="536.5" cy="46.6" r="0.99" fill="#e232cc" opacity="0.86"/><circle cx="516.9" cy="45.9" r="1.03" fill="#e232cc" opacity="0.85"/><circle cx="523.9" cy="48.1" r="1.03" fill="#e232cc" opacity="0.92"/><circle cx="524.5" cy="33.2" r="0.91" fill="#e232cc" opacity="0.86"/></g></g>
<defs><clipPath id="clipE12"><rect x="488.8" y="58.8" width="51.4" height="35.0"/></clipPath></defs>
<rect x="488.8" y="58.8" width="51.4" height="35.0" fill="#000004" />
<g clip-path="url(#clipE12)"><g filter="url(#blur2)"><ellipse cx="491.3" cy="61.3" rx="1.03" ry="0.78" fill="#2020f8" opacity="0.81"/><ellipse cx="491.8" cy="65.2" rx="1.28" ry="1.21" fill="#2020f8" opacity="0.90"/><ellipse cx="490.6" cy="67.5" rx="1.45" ry="1.12" fill="#2020f8" opacity="0.95"/><ellipse cx="490.3" cy="76.0" rx="1.41" ry="1.07" fill="#2020f8" opacity="0.72"/><ellipse cx="490.8" cy="78.9" rx="1.49" ry="1.61" fill="#2020f8" opacity="0.73"/><ellipse cx="489.6" cy="83.5" rx="1.29" ry="1.04" fill="#2020f8" opacity="0.91"/><ellipse cx="491.8" cy="91.5" rx="1.18" ry="1.13" fill="#2020f8" opacity="0.84"/><ellipse cx="493.2" cy="61.4" rx="1.48" ry="1.62" fill="#2020f8" opacity="0.90"/><ellipse cx="494.3" cy="65.2" rx="1.32" ry="1.04" fill="#2020f8" opacity="0.77"/><ellipse cx="494.8" cy="69.5" rx="1.23" ry="0.93" fill="#2020f8" opacity="0.95"/><ellipse cx="494.8" cy="71.5" rx="1.18" ry="1.05" fill="#2020f8" opacity="0.93"/><ellipse cx="493.7" cy="80.8" rx="0.97" ry="0.82" fill="#2020f8" opacity="0.80"/><ellipse cx="493.3" cy="84.0" rx="1.06" ry="0.90" fill="#2020f8" opacity="0.84"/><ellipse cx="494.7" cy="89.4" rx="1.04" ry="1.12" fill="#2020f8" opacity="0.81"/><ellipse cx="495.5" cy="93.1" rx="0.95" ry="0.80" fill="#2020f8" opacity="0.93"/><ellipse cx="497.9" cy="59.2" rx="0.97" ry="0.94" fill="#2020f8" opacity="1.00"/><ellipse cx="498.7" cy="63.2" rx="1.13" ry="1.16" fill="#2020f8" opacity="0.95"/><ellipse cx="497.8" cy="68.6" rx="1.21" ry="1.18" fill="#2020f8" opacity="0.78"/><ellipse cx="499.9" cy="71.4" rx="1.11" ry="1.17" fill="#2020f8" opacity="0.78"/><ellipse cx="498.7" cy="76.9" rx="1.34" ry="1.10" fill="#2020f8" opacity="0.79"/><ellipse cx="499.3" cy="80.8" rx="1.02" ry="1.08" fill="#2020f8" opacity="0.83"/><ellipse cx="498.5" cy="85.6" rx="1.26" ry="1.22" fill="#2020f8" opacity="0.98"/><ellipse cx="499.5" cy="87.7" rx="1.27" ry="1.36" fill="#2020f8" opacity="0.94"/><ellipse cx="498.2" cy="91.4" rx="1.35" ry="1.28" fill="#2020f8" opacity="0.71"/><ellipse cx="503.9" cy="61.7" rx="1.44" ry="1.54" fill="#2020f8" opacity="0.86"/><ellipse cx="502.3" cy="63.4" rx="1.14" ry="0.98" fill="#2020f8" opacity="0.98"/><ellipse cx="502.8" cy="68.9" rx="1.02" ry="0.95" fill="#2020f8" opacity="0.91"/><ellipse cx="501.8" cy="72.1" rx="1.13" ry="1.12" fill="#2020f8" opacity="0.74"/><ellipse cx="503.3" cy="81.0" rx="1.31" ry="1.41" fill="#2020f8" opacity="0.81"/><ellipse cx="502.5" cy="87.0" rx="1.32" ry="1.15" fill="#2020f8" opacity="0.77"/><ellipse cx="504.0" cy="90.3" rx="1.15" ry="0.97" fill="#2020f8" opacity="0.76"/><ellipse cx="505.7" cy="62.0" rx="1.23" ry="1.22" fill="#2020f8" opacity="0.75"/><ellipse cx="506.9" cy="65.7" rx="1.09" ry="0.99" fill="#2020f8" opacity="0.96"/><ellipse cx="505.7" cy="68.6" rx="1.37" ry="1.22" fill="#2020f8" opacity="0.90"/><ellipse cx="508.1" cy="72.6" rx="1.32" ry="1.16" fill="#2020f8" opacity="0.92"/><ellipse cx="506.6" cy="75.9" rx="1.12" ry="0.89" fill="#2020f8" opacity="0.77"/><ellipse cx="505.8" cy="78.8" rx="1.39" ry="1.18" fill="#2020f8" opacity="0.98"/><ellipse cx="506.2" cy="85.2" rx="1.44" ry="1.24" fill="#2020f8" opacity="0.74"/><ellipse cx="507.7" cy="88.3" rx="1.38" ry="1.24" fill="#2020f8" opacity="0.89"/><ellipse cx="506.3" cy="91.5" rx="1.16" ry="1.03" fill="#2020f8" opacity="0.94"/><ellipse cx="509.6" cy="60.0" rx="1.48" ry="1.38" fill="#2020f8" opacity="0.72"/><ellipse cx="511.7" cy="65.6" rx="1.15" ry="1.16" fill="#2020f8" opacity="0.79"/><ellipse cx="511.7" cy="69.6" rx="1.07" ry="1.13" fill="#2020f8" opacity="0.71"/><ellipse cx="509.0" cy="71.4" rx="1.04" ry="1.04" fill="#2020f8" opacity="0.79"/><ellipse cx="509.5" cy="75.7" rx="1.42" ry="1.37" fill="#2020f8" opacity="0.73"/><ellipse cx="510.7" cy="80.0" rx="1.24" ry="1.21" fill="#2020f8" opacity="0.94"/><ellipse cx="511.0" cy="84.0" rx="1.30" ry="1.15" fill="#2020f8" opacity="0.82"/><ellipse cx="511.2" cy="87.3" rx="1.46" ry="1.34" fill="#2020f8" opacity="0.96"/><ellipse cx="512.0" cy="92.4" rx="1.18" ry="1.06" fill="#2020f8" opacity="0.88"/><ellipse cx="515.6" cy="59.6" rx="0.98" ry="0.78" fill="#2020f8" opacity="0.73"/><ellipse cx="513.3" cy="73.0" rx="1.29" ry="1.40" fill="#2020f8" opacity="0.99"/><ellipse cx="515.9" cy="74.8" rx="1.08" ry="1.16" fill="#2020f8" opacity="0.84"/><ellipse cx="515.3" cy="80.0" rx="1.25" ry="1.07" fill="#2020f8" opacity="0.77"/><ellipse cx="515.9" cy="89.5" rx="1.37" ry="1.48" fill="#2020f8" opacity="0.81"/><ellipse cx="515.8" cy="92.2" rx="1.32" ry="0.99" fill="#2020f8" opacity="0.77"/><ellipse cx="519.2" cy="61.8" rx="1.37" ry="1.19" fill="#2020f8" opacity="0.81"/><ellipse cx="520.0" cy="64.6" rx="1.06" ry="1.02" fill="#2020f8" opacity="0.86"/><ellipse cx="517.6" cy="68.2" rx="1.29" ry="1.02" fill="#2020f8" opacity="0.86"/><ellipse cx="519.2" cy="71.6" rx="1.18" ry="0.93" fill="#2020f8" opacity="0.92"/><ellipse cx="517.4" cy="76.4" rx="1.28" ry="1.22" fill="#2020f8" opacity="0.81"/><ellipse cx="518.0" cy="81.7" rx="1.13" ry="1.05" fill="#2020f8" opacity="0.84"/><ellipse cx="518.1" cy="83.2" rx="1.13" ry="0.99" fill="#2020f8" opacity="0.80"/><ellipse cx="517.8" cy="87.4" rx="1.31" ry="1.17" fill="#2020f8" opacity="0.85"/><ellipse cx="517.1" cy="92.4" rx="1.01" ry="0.84" fill="#2020f8" opacity="0.94"/><ellipse cx="523.0" cy="59.7" rx="1.19" ry="1.01" fill="#2020f8" opacity="0.95"/><ellipse cx="521.4" cy="65.1" rx="1.30" ry="1.24" fill="#2020f8" opacity="0.84"/><ellipse cx="522.3" cy="69.9" rx="1.17" ry="1.06" fill="#2020f8" opacity="0.81"/><ellipse cx="523.2" cy="71.6" rx="1.24" ry="1.24" fill="#2020f8" opacity="0.85"/><ellipse cx="522.8" cy="77.0" rx="1.15" ry="0.98" fill="#2020f8" opacity="0.71"/><ellipse cx="523.3" cy="79.8" rx="1.48" ry="1.58" fill="#2020f8" opacity="0.75"/><ellipse cx="522.2" cy="83.5" rx="1.09" ry="0.98" fill="#2020f8" opacity="0.72"/><ellipse cx="525.3" cy="59.6" rx="1.41" ry="1.24" fill="#2020f8" opacity="0.85"/><ellipse cx="527.7" cy="63.5" rx="1.08" ry="1.13" fill="#2020f8" opacity="0.97"/><ellipse cx="526.5" cy="68.1" rx="1.05" ry="1.13" fill="#2020f8" opacity="0.93"/><ellipse cx="527.3" cy="71.7" rx="1.24" ry="1.33" fill="#2020f8" opacity="0.73"/><ellipse cx="525.4" cy="77.4" rx="1.41" ry="1.38" fill="#2020f8" opacity="0.83"/><ellipse cx="525.9" cy="83.8" rx="0.99" ry="1.06" fill="#2020f8" opacity="0.86"/><ellipse cx="527.4" cy="89.2" rx="1.25" ry="1.18" fill="#2020f8" opacity="0.95"/><ellipse cx="527.6" cy="90.4" rx="1.39" ry="1.30" fill="#2020f8" opacity="0.89"/><ellipse cx="529.4" cy="60.5" rx="1.39" ry="1.41" fill="#2020f8" opacity="0.86"/><ellipse cx="530.9" cy="65.8" rx="1.31" ry="1.15" fill="#2020f8" opacity="0.79"/><ellipse cx="528.9" cy="73.9" rx="1.03" ry="0.99" fill="#2020f8" opacity="0.74"/><ellipse cx="530.4" cy="75.3" rx="1.40" ry="1.48" fill="#2020f8" opacity="0.99"/><ellipse cx="530.0" cy="80.7" rx="1.11" ry="1.05" fill="#2020f8" opacity="0.91"/><ellipse cx="531.3" cy="84.9" rx="1.11" ry="1.12" fill="#2020f8" opacity="0.83"/><ellipse cx="528.8" cy="88.3" rx="1.15" ry="0.90" fill="#2020f8" opacity="0.85"/><ellipse cx="529.8" cy="92.1" rx="1.25" ry="1.17" fill="#2020f8" opacity="1.00"/><ellipse cx="533.6" cy="61.9" rx="1.12" ry="1.21" fill="#2020f8" opacity="0.72"/><ellipse cx="535.6" cy="65.1" rx="1.34" ry="1.10" fill="#2020f8" opacity="0.74"/><ellipse cx="532.9" cy="67.5" rx="1.19" ry="1.23" fill="#2020f8" opacity="0.90"/><ellipse cx="535.2" cy="72.2" rx="1.45" ry="1.25" fill="#2020f8" opacity="0.72"/><ellipse cx="535.5" cy="76.8" rx="1.21" ry="1.00" fill="#2020f8" opacity="0.77"/><ellipse cx="535.5" cy="89.3" rx="1.23" ry="1.22" fill="#2020f8" opacity="0.84"/><ellipse cx="534.9" cy="93.4" rx="1.42" ry="1.40" fill="#2020f8" opacity="0.88"/><ellipse cx="538.1" cy="60.6" rx="1.03" ry="0.85" fill="#2020f8" opacity="0.82"/><ellipse cx="538.6" cy="64.1" rx="1.49" ry="1.48" fill="#2020f8" opacity="0.85"/><ellipse cx="537.9" cy="67.6" rx="1.48" ry="1.58" fill="#2020f8" opacity="0.90"/><ellipse cx="537.1" cy="72.5" rx="1.04" ry="0.90" fill="#2020f8" opacity="0.88"/><ellipse cx="537.4" cy="77.0" rx="1.22" ry="1.29" fill="#2020f8" opacity="0.75"/><ellipse cx="538.6" cy="84.7" rx="1.26" ry="1.01" fill="#2020f8" opacity="0.99"/><ellipse cx="539.5" cy="86.9" rx="1.10" ry="1.04" fill="#2020f8" opacity="0.77"/><ellipse cx="537.5" cy="90.5" rx="1.04" ry="0.88" fill="#2020f8" opacity="0.98"/><circle cx="523.7" cy="76.8" r="0.97" fill="#9028d0" opacity="0.85"/><circle cx="516.0" cy="84.4" r="0.91" fill="#9028d0" opacity="0.77"/><circle cx="495.8" cy="84.1" r="0.96" fill="#9028d0" opacity="0.86"/><circle cx="511.6" cy="90.9" r="0.90" fill="#9028d0" opacity="0.89"/><circle cx="490.8" cy="73.2" r="0.86" fill="#9028d0" opacity="0.90"/><circle cx="513.0" cy="71.7" r="0.74" fill="#9028d0" opacity="0.65"/><circle cx="510.7" cy="63.4" r="0.82" fill="#9028d0" opacity="0.76"/><circle cx="538.1" cy="88.8" r="0.88" fill="#9028d0" opacity="0.89"/><circle cx="516.8" cy="66.5" r="1.03" fill="#9028d0" opacity="0.88"/><circle cx="493.9" cy="62.6" r="0.84" fill="#9028d0" opacity="0.68"/><circle cx="532.0" cy="73.8" r="0.83" fill="#9028d0" opacity="0.93"/><circle cx="536.6" cy="64.4" r="0.84" fill="#9028d0" opacity="0.69"/></g></g>
<defs><clipPath id="clipE13"><rect x="488.8" y="95.0" width="51.4" height="34.7"/></clipPath></defs>
<rect x="488.8" y="95.0" width="51.4" height="34.7" fill="#000004" />
<g clip-path="url(#clipE13)"><g filter="url(#blur2)"><ellipse cx="491.4" cy="97.5" rx="1.42" ry="1.15" fill="#2020f8" opacity="0.77"/><ellipse cx="489.9" cy="101.5" rx="1.02" ry="0.96" fill="#2020f8" opacity="0.76"/><ellipse cx="490.6" cy="105.7" rx="1.28" ry="0.97" fill="#2020f8" opacity="0.78"/><ellipse cx="492.0" cy="109.4" rx="1.39" ry="1.45" fill="#2020f8" opacity="0.92"/><ellipse cx="491.7" cy="111.6" rx="1.42" ry="1.30" fill="#2020f8" opacity="0.93"/><ellipse cx="490.6" cy="115.8" rx="1.19" ry="1.02" fill="#2020f8" opacity="0.74"/><ellipse cx="491.7" cy="121.6" rx="1.33" ry="1.26" fill="#2020f8" opacity="0.92"/><ellipse cx="491.3" cy="123.7" rx="1.05" ry="0.86" fill="#2020f8" opacity="0.86"/><ellipse cx="490.6" cy="128.1" rx="1.17" ry="0.93" fill="#2020f8" opacity="0.85"/><ellipse cx="493.9" cy="96.0" rx="1.15" ry="0.89" fill="#2020f8" opacity="0.90"/><ellipse cx="494.4" cy="101.5" rx="1.46" ry="1.12" fill="#2020f8" opacity="0.74"/><ellipse cx="495.8" cy="105.1" rx="1.04" ry="0.93" fill="#2020f8" opacity="0.96"/><ellipse cx="495.7" cy="107.6" rx="1.42" ry="1.25" fill="#2020f8" opacity="0.91"/><ellipse cx="496.2" cy="112.7" rx="1.35" ry="1.11" fill="#2020f8" opacity="0.89"/><ellipse cx="495.0" cy="115.8" rx="1.35" ry="1.17" fill="#2020f8" opacity="0.79"/><ellipse cx="495.3" cy="118.9" rx="1.07" ry="0.83" fill="#2020f8" opacity="0.89"/><ellipse cx="494.9" cy="122.5" rx="1.19" ry="1.04" fill="#2020f8" opacity="0.73"/><ellipse cx="497.5" cy="96.3" rx="1.10" ry="1.05" fill="#2020f8" opacity="0.72"/><ellipse cx="498.3" cy="101.8" rx="0.95" ry="0.83" fill="#2020f8" opacity="0.85"/><ellipse cx="498.7" cy="104.6" rx="1.32" ry="1.13" fill="#2020f8" opacity="0.71"/><ellipse cx="500.0" cy="109.2" rx="1.09" ry="1.08" fill="#2020f8" opacity="0.95"/><ellipse cx="499.0" cy="111.9" rx="1.08" ry="0.92" fill="#2020f8" opacity="0.76"/><ellipse cx="497.2" cy="115.9" rx="1.00" ry="1.01" fill="#2020f8" opacity="0.88"/><ellipse cx="497.7" cy="123.9" rx="1.26" ry="1.09" fill="#2020f8" opacity="0.79"/><ellipse cx="497.5" cy="128.9" rx="1.01" ry="1.05" fill="#2020f8" opacity="0.77"/><ellipse cx="502.3" cy="95.5" rx="1.02" ry="0.89" fill="#2020f8" opacity="0.83"/><ellipse cx="504.2" cy="99.4" rx="1.24" ry="0.99" fill="#2020f8" opacity="0.94"/><ellipse cx="503.9" cy="104.8" rx="1.02" ry="0.77" fill="#2020f8" opacity="0.77"/><ellipse cx="501.5" cy="108.4" rx="1.15" ry="1.01" fill="#2020f8" opacity="0.94"/><ellipse cx="503.3" cy="112.9" rx="1.46" ry="1.36" fill="#2020f8" opacity="0.98"/><ellipse cx="502.9" cy="116.6" rx="1.41" ry="1.50" fill="#2020f8" opacity="0.73"/><ellipse cx="502.7" cy="121.0" rx="1.24" ry="1.06" fill="#2020f8" opacity="0.99"/><ellipse cx="501.3" cy="122.5" rx="0.97" ry="0.97" fill="#2020f8" opacity="0.73"/><ellipse cx="503.8" cy="129.3" rx="1.39" ry="1.25" fill="#2020f8" opacity="0.89"/><ellipse cx="507.3" cy="96.3" rx="1.37" ry="1.08" fill="#2020f8" opacity="0.79"/><ellipse cx="506.5" cy="100.1" rx="1.38" ry="1.25" fill="#2020f8" opacity="0.70"/><ellipse cx="506.1" cy="109.8" rx="1.09" ry="1.14" fill="#2020f8" opacity="0.96"/><ellipse cx="508.2" cy="113.2" rx="1.22" ry="1.02" fill="#2020f8" opacity="0.84"/><ellipse cx="506.7" cy="115.3" rx="1.16" ry="1.06" fill="#2020f8" opacity="0.76"/><ellipse cx="505.1" cy="121.1" rx="1.05" ry="0.82" fill="#2020f8" opacity="0.88"/><ellipse cx="507.8" cy="123.9" rx="1.24" ry="1.29" fill="#2020f8" opacity="0.76"/><ellipse cx="507.1" cy="127.6" rx="1.48" ry="1.12" fill="#2020f8" opacity="0.96"/><ellipse cx="511.6" cy="95.9" rx="0.98" ry="0.91" fill="#2020f8" opacity="0.98"/><ellipse cx="510.5" cy="101.1" rx="1.08" ry="1.01" fill="#2020f8" opacity="0.70"/><ellipse cx="511.4" cy="104.1" rx="1.07" ry="0.82" fill="#2020f8" opacity="0.91"/><ellipse cx="511.9" cy="109.2" rx="1.01" ry="1.08" fill="#2020f8" opacity="0.98"/><ellipse cx="511.6" cy="112.9" rx="1.35" ry="1.32" fill="#2020f8" opacity="0.88"/><ellipse cx="509.4" cy="116.9" rx="1.28" ry="0.98" fill="#2020f8" opacity="0.89"/><ellipse cx="510.6" cy="120.9" rx="1.43" ry="1.26" fill="#2020f8" opacity="0.94"/><ellipse cx="510.8" cy="123.7" rx="1.46" ry="1.32" fill="#2020f8" opacity="0.99"/><ellipse cx="511.1" cy="129.0" rx="1.33" ry="1.17" fill="#2020f8" opacity="0.72"/><ellipse cx="514.2" cy="97.9" rx="1.38" ry="1.51" fill="#2020f8" opacity="0.83"/><ellipse cx="514.7" cy="101.6" rx="0.99" ry="0.82" fill="#2020f8" opacity="0.74"/><ellipse cx="513.9" cy="106.1" rx="1.06" ry="1.15" fill="#2020f8" opacity="0.79"/><ellipse cx="516.0" cy="107.2" rx="1.01" ry="0.80" fill="#2020f8" opacity="0.72"/><ellipse cx="513.6" cy="111.3" rx="0.96" ry="0.95" fill="#2020f8" opacity="0.71"/><ellipse cx="514.7" cy="117.4" rx="1.31" ry="1.31" fill="#2020f8" opacity="0.91"/><ellipse cx="515.6" cy="119.0" rx="0.98" ry="0.95" fill="#2020f8" opacity="0.86"/><ellipse cx="515.4" cy="122.9" rx="1.34" ry="1.20" fill="#2020f8" opacity="0.83"/><ellipse cx="513.8" cy="128.0" rx="1.25" ry="1.34" fill="#2020f8" opacity="0.78"/><ellipse cx="517.2" cy="97.4" rx="1.04" ry="1.09" fill="#2020f8" opacity="0.99"/><ellipse cx="519.4" cy="99.9" rx="1.12" ry="0.88" fill="#2020f8" opacity="0.83"/><ellipse cx="518.7" cy="108.2" rx="1.34" ry="1.11" fill="#2020f8" opacity="0.80"/><ellipse cx="516.9" cy="113.5" rx="1.00" ry="0.78" fill="#2020f8" opacity="0.94"/><ellipse cx="518.3" cy="116.0" rx="1.03" ry="0.77" fill="#2020f8" opacity="0.86"/><ellipse cx="517.4" cy="121.3" rx="0.96" ry="0.84" fill="#2020f8" opacity="0.93"/><ellipse cx="517.2" cy="124.7" rx="1.26" ry="1.22" fill="#2020f8" opacity="0.98"/><ellipse cx="518.8" cy="128.6" rx="1.22" ry="1.15" fill="#2020f8" opacity="0.95"/><ellipse cx="522.0" cy="95.4" rx="1.38" ry="1.20" fill="#2020f8" opacity="0.83"/><ellipse cx="522.6" cy="100.5" rx="1.41" ry="1.35" fill="#2020f8" opacity="0.87"/><ellipse cx="522.2" cy="104.8" rx="1.36" ry="1.37" fill="#2020f8" opacity="0.92"/><ellipse cx="522.6" cy="108.7" rx="1.05" ry="0.88" fill="#2020f8" opacity="0.83"/><ellipse cx="523.7" cy="110.9" rx="1.14" ry="1.15" fill="#2020f8" opacity="0.84"/><ellipse cx="521.3" cy="117.0" rx="1.19" ry="1.13" fill="#2020f8" opacity="0.72"/><ellipse cx="523.4" cy="120.8" rx="1.26" ry="1.13" fill="#2020f8" opacity="0.71"/><ellipse cx="522.2" cy="124.6" rx="1.29" ry="1.15" fill="#2020f8" opacity="0.96"/><ellipse cx="523.9" cy="126.5" rx="1.48" ry="1.42" fill="#2020f8" opacity="0.83"/><ellipse cx="526.4" cy="97.0" rx="0.98" ry="1.01" fill="#2020f8" opacity="0.89"/><ellipse cx="525.1" cy="100.5" rx="1.46" ry="1.54" fill="#2020f8" opacity="0.84"/><ellipse cx="525.4" cy="109.2" rx="1.22" ry="1.33" fill="#2020f8" opacity="0.74"/><ellipse cx="527.1" cy="110.9" rx="1.26" ry="1.08" fill="#2020f8" opacity="0.91"/><ellipse cx="526.9" cy="116.2" rx="1.28" ry="1.07" fill="#2020f8" opacity="0.84"/><ellipse cx="525.0" cy="124.0" rx="1.05" ry="0.99" fill="#2020f8" opacity="0.72"/><ellipse cx="531.0" cy="98.1" rx="1.32" ry="1.45" fill="#2020f8" opacity="0.74"/><ellipse cx="530.7" cy="99.8" rx="1.03" ry="0.86" fill="#2020f8" opacity="0.86"/><ellipse cx="531.0" cy="104.9" rx="0.99" ry="1.00" fill="#2020f8" opacity="0.85"/><ellipse cx="530.7" cy="107.7" rx="1.12" ry="1.02" fill="#2020f8" opacity="0.93"/><ellipse cx="529.5" cy="116.7" rx="1.40" ry="1.18" fill="#2020f8" opacity="0.92"/><ellipse cx="529.4" cy="119.4" rx="1.25" ry="1.29" fill="#2020f8" opacity="0.88"/><ellipse cx="530.6" cy="127.5" rx="1.08" ry="0.98" fill="#2020f8" opacity="0.91"/><ellipse cx="533.1" cy="98.1" rx="1.19" ry="0.92" fill="#2020f8" opacity="0.97"/><ellipse cx="534.6" cy="105.1" rx="1.44" ry="1.17" fill="#2020f8" opacity="0.87"/><ellipse cx="534.2" cy="109.2" rx="1.21" ry="1.21" fill="#2020f8" opacity="0.99"/><ellipse cx="535.0" cy="111.9" rx="1.44" ry="1.46" fill="#2020f8" opacity="0.96"/><ellipse cx="534.6" cy="117.6" rx="1.04" ry="0.98" fill="#2020f8" opacity="0.72"/><ellipse cx="534.9" cy="119.4" rx="1.40" ry="1.25" fill="#2020f8" opacity="0.76"/><ellipse cx="534.5" cy="123.6" rx="0.98" ry="0.84" fill="#2020f8" opacity="0.99"/><ellipse cx="534.8" cy="127.5" rx="0.99" ry="0.95" fill="#2020f8" opacity="0.76"/><ellipse cx="538.6" cy="97.5" rx="0.96" ry="1.03" fill="#2020f8" opacity="0.71"/><ellipse cx="537.7" cy="101.7" rx="1.36" ry="1.37" fill="#2020f8" opacity="0.83"/><ellipse cx="537.1" cy="106.1" rx="0.98" ry="0.79" fill="#2020f8" opacity="0.93"/><ellipse cx="538.8" cy="107.7" rx="1.43" ry="1.33" fill="#2020f8" opacity="0.76"/><ellipse cx="536.8" cy="115.3" rx="1.15" ry="1.22" fill="#2020f8" opacity="0.95"/><ellipse cx="538.6" cy="118.6" rx="1.36" ry="1.11" fill="#2020f8" opacity="0.98"/><ellipse cx="536.9" cy="124.6" rx="1.08" ry="0.85" fill="#2020f8" opacity="0.96"/><ellipse cx="537.6" cy="128.0" rx="0.99" ry="0.89" fill="#2020f8" opacity="0.89"/><circle cx="509.9" cy="128.3" r="0.84" fill="#8a28d0" opacity="0.72"/><circle cx="521.9" cy="122.2" r="0.73" fill="#8a28d0" opacity="0.75"/><circle cx="507.2" cy="114.1" r="0.85" fill="#8a28d0" opacity="0.67"/><circle cx="495.9" cy="124.0" r="0.80" fill="#8a28d0" opacity="0.88"/><circle cx="532.5" cy="124.3" r="0.91" fill="#8a28d0" opacity="0.92"/><circle cx="529.3" cy="102.2" r="0.99" fill="#8a28d0" opacity="0.65"/><circle cx="493.5" cy="100.0" r="1.05" fill="#8a28d0" opacity="0.87"/><circle cx="532.6" cy="109.2" r="0.96" fill="#8a28d0" opacity="0.94"/><circle cx="510.3" cy="99.8" r="0.95" fill="#8a28d0" opacity="0.80"/></g></g>
<line x1="584.8" y1="36.1" x2="584.8" y2="120.2" stroke="#3a3a3a" stroke-width="1" />
<line x1="584.8" y1="120.2" x2="647.5" y2="120.2" stroke="#3a3a3a" stroke-width="1.2" />
<text x="578.7" y="123.8" font-size="10.9" text-anchor="end" fill="#111" >0</text>
<line x1="584.8" y1="99.2" x2="587.8" y2="99.2" stroke="#3a3a3a" stroke-width="1" />
<text x="580.3" y="104.0" font-size="10.9" text-anchor="end" fill="#111" >10</text>
<line x1="584.8" y1="78.2" x2="587.8" y2="78.2" stroke="#3a3a3a" stroke-width="1" />
<text x="580.3" y="83.0" font-size="10.9" text-anchor="end" fill="#111" >20</text>
<line x1="584.8" y1="57.2" x2="587.8" y2="57.2" stroke="#3a3a3a" stroke-width="1" />
<text x="580.3" y="62.0" font-size="10.9" text-anchor="end" fill="#111" >30</text>
<line x1="584.8" y1="36.2" x2="587.8" y2="36.2" stroke="#3a3a3a" stroke-width="1" />
<text x="580.3" y="41.0" font-size="10.9" text-anchor="end" fill="#111" >40</text>
<text transform="translate(562.6,75.0) rotate(-90)" font-size="10.9" text-anchor="middle" fill="#111" >EDU positive cells (%)</text>
<line x1="594.6" y1="40.400000000000006" x2="594.6" y2="45.86" stroke="#222" stroke-width="1" />
<line x1="591.9" y1="40.400000000000006" x2="597.3000000000001" y2="40.400000000000006" stroke="#222" stroke-width="1.2" />
<rect x="590.1" y="45.86" width="9.0" height="74.34" fill="#0070c0" />
<line x1="615.9" y1="77.57" x2="615.9" y2="79.03999999999999" stroke="#222" stroke-width="1" />
<line x1="613.1999999999999" y1="77.57" x2="618.6" y2="77.57" stroke="#222" stroke-width="1.2" />
<rect x="611.4" y="79.03999999999999" width="9.0" height="41.16000000000001" fill="#0070c0" />
<line x1="637.2" y1="75.26" x2="637.2" y2="79.46000000000001" stroke="#222" stroke-width="1" />
<line x1="634.5" y1="75.26" x2="639.9000000000001" y2="75.26" stroke="#222" stroke-width="1.2" />
<rect x="632.7" y="79.46000000000001" width="9.0" height="40.739999999999995" fill="#0070c0" />
<path d="M593.9,37.9 V30.4 H614.7 V71.7" fill="none" stroke="#111" stroke-width="1.3" />
<path d="M593.9,28.2 V19.5 H635.9 V69.6" fill="none" stroke="#111" stroke-width="1.3" />
<text x="605.4" y="32.2" font-size="10.2" text-anchor="middle" fill="#111" stroke="#1a1a1a" stroke-width="0.3">***</text>
<text x="613.2" y="22.0" font-size="10.2" text-anchor="middle" fill="#111" stroke="#1a1a1a" stroke-width="0.3">**</text>
<text transform="translate(590.0,131.0) rotate(37)" font-size="10.9" text-anchor="start" fill="#111" >sh-ctrl</text>
<text transform="translate(612.6,131.0) rotate(37)" font-size="10.9" text-anchor="start" fill="#111" >sh-TRMP#1</text>
<text transform="translate(635.8,131.0) rotate(37)" font-size="10.9" text-anchor="start" fill="#111" >sh-TRMP#2</text>
<text x="2.2" y="181.8" font-size="13.8" text-anchor="start" fill="#111" >D</text>
<text transform="translate(10.8,246.7) rotate(-90)" font-size="10.9" text-anchor="middle" fill="#111" >Relative cell numbers</text>
<line x1="30.5" y1="190.9" x2="30.5" y2="306.9" stroke="#3a3a3a" stroke-width="1.2" />
<line x1="30.5" y1="306.9" x2="147.0" y2="306.9" stroke="#3a3a3a" stroke-width="1.2" />
<text x="27.2" y="311.5" font-size="10.9" text-anchor="end" fill="#111" >0</text>
<line x1="30.5" y1="268.59" x2="34.9" y2="268.59" stroke="#3a3a3a" stroke-width="1" />
<text x="27.2" y="272.19" font-size="10.9" text-anchor="end" fill="#111" >3</text>
<line x1="30.5" y1="230.27999999999997" x2="34.9" y2="230.27999999999997" stroke="#3a3a3a" stroke-width="1" />
<text x="27.2" y="233.87999999999997" font-size="10.9" text-anchor="end" fill="#111" >6</text>
<line x1="30.5" y1="191.96999999999997" x2="34.9" y2="191.96999999999997" stroke="#3a3a3a" stroke-width="1" />
<text x="27.2" y="195.56999999999996" font-size="10.9" text-anchor="end" fill="#111" >9</text>
<text x="48.8" y="320.4" font-size="10.9" text-anchor="middle" fill="#111" >0</text>
<text x="80.6" y="320.4" font-size="10.9" text-anchor="middle" fill="#111" >2</text>
<text x="112.5" y="320.4" font-size="10.9" text-anchor="middle" fill="#111" >4</text>
<text x="144.1" y="320.4" font-size="10.9" text-anchor="middle" fill="#111" >6</text>
<text x="150.4" y="320.4" font-size="10.9" text-anchor="start" fill="#111" >(days)</text>
<path d="M51.20,294.13 L81.90,287.11 L112.60,273.44 L143.30,237.05" fill="none" stroke="#5b9bd5" stroke-width="2" stroke-linejoin="round"/>
<path d="M51.20,294.13 L81.90,284.68 L112.60,258.37 L143.30,200.14" fill="none" stroke="#ed7d31" stroke-width="2" stroke-linejoin="round"/>
<line x1="112.6" y1="243.56079999999997" x2="112.6" y2="273.18719999999996" stroke="#222" stroke-width="1" />
<line x1="109.39999999999999" y1="243.56079999999997" x2="115.8" y2="243.56079999999997" stroke="#222" stroke-width="1" />
<line x1="109.39999999999999" y1="273.18719999999996" x2="115.8" y2="273.18719999999996" stroke="#222" stroke-width="1" />
<line x1="112.6" y1="266.67449999999997" x2="112.6" y2="280.2107" stroke="#222" stroke-width="1" />
<line x1="109.39999999999999" y1="266.67449999999997" x2="115.8" y2="266.67449999999997" stroke="#222" stroke-width="1" />
<line x1="109.39999999999999" y1="280.2107" x2="115.8" y2="280.2107" stroke="#222" stroke-width="1" />
<line x1="143.3" y1="195.0348" x2="143.3" y2="205.2508" stroke="#222" stroke-width="1" />
<line x1="140.10000000000002" y1="195.0348" x2="146.5" y2="195.0348" stroke="#222" stroke-width="1" />
<line x1="140.10000000000002" y1="205.2508" x2="146.5" y2="205.2508" stroke="#222" stroke-width="1" />
<line x1="143.3" y1="235.13259999999997" x2="143.3" y2="238.96359999999999" stroke="#222" stroke-width="1" />
<line x1="140.10000000000002" y1="235.13259999999997" x2="146.5" y2="235.13259999999997" stroke="#222" stroke-width="1" />
<line x1="140.10000000000002" y1="238.96359999999999" x2="146.5" y2="238.96359999999999" stroke="#222" stroke-width="1" />
<path d="M51.20,290.13 L55.20,294.13 L51.20,298.13 L47.20,294.13 Z" fill="#1570c6" stroke="#5b9bd5" stroke-width="1.3" stroke-linejoin="round"/>
<path d="M81.90,283.11 L85.90,287.11 L81.90,291.11 L77.90,287.11 Z" fill="#1570c6" stroke="#5b9bd5" stroke-width="1.3" stroke-linejoin="round"/>
<path d="M112.60,269.44 L116.60,273.44 L112.60,277.44 L108.60,273.44 Z" fill="#1570c6" stroke="#5b9bd5" stroke-width="1.3" stroke-linejoin="round"/>
<path d="M143.30,233.05 L147.30,237.05 L143.30,241.05 L139.30,237.05 Z" fill="#1570c6" stroke="#5b9bd5" stroke-width="1.3" stroke-linejoin="round"/>
<rect x="47.0" y="289.93" width="8.4" height="8.4" fill="#ed7d31" />
<rect x="77.7" y="280.48019999999997" width="8.4" height="8.4" fill="#ed7d31" />
<rect x="108.39999999999999" y="254.17399999999998" width="8.4" height="8.4" fill="#ed7d31" />
<rect x="139.10000000000002" y="195.9428" width="8.4" height="8.4" fill="#ed7d31" />
<path d="M49.0,203.20000000000002 L52.2,206.4 L49.0,209.6 L45.8,206.4 Z" fill="#0070c0" stroke="none" stroke-width="1" />
<rect x="45.9" y="217.3" width="6.1" height="5.7" fill="#ed7d31" />
<text x="55.2" y="209.9" font-size="10.9" text-anchor="start" fill="#111" >EV</text>
<text x="55.2" y="223.0" font-size="10.9" text-anchor="start" fill="#111" >TRMP</text>
<text x="87.6" y="199.5" font-size="10.9" text-anchor="start" fill="#111" >A549</text>
<path d="M152.0,199.6 H157.6 V231.2 H151.2" fill="none" stroke="#111" stroke-width="1.3" />
<text x="162.0" y="220.9" font-size="10.5" text-anchor="middle" fill="#111" stroke="#1a1a1a" stroke-width="0.3">*</text>
<text x="228.4" y="183.9" font-size="13.8" text-anchor="start" fill="#111" >E</text>
<text transform="translate(240.2,231.6) rotate(-90)" font-size="10.9" text-anchor="middle" fill="#111" >Cell number</text>
<line x1="245.5" y1="193.8" x2="245.5" y2="263.5" stroke="#111" stroke-width="1.2" />
<line x1="245.5" y1="263.5" x2="493.6" y2="263.5" stroke="#111" stroke-width="1.3" />
<text x="257.0" y="197.0" font-size="10.9" text-anchor="start" fill="#111" >sh-ctrl</text>
<text x="336.2" y="197.0" font-size="10.9" text-anchor="start" fill="#111" >sh-TRMP#1</text>
<text x="414.2" y="197.0" font-size="10.9" text-anchor="start" fill="#111" >sh-TRMP#2</text>
<line x1="250.3" y1="203.5" x2="250.3" y2="258.8" stroke="#9a9a9a" stroke-width="0.6" stroke-dasharray="0.7 0.7"/>
<path d="M248.40,258.80h1.90M249.30,256.05h1.00M249.30,253.30h1.00M249.30,250.55h1.00M248.40,247.80h1.90M249.30,245.05h1.00M249.30,242.30h1.00M249.30,239.55h1.00M248.40,236.80h1.90M249.30,234.05h1.00M249.30,231.30h1.00M249.30,228.55h1.00M248.40,225.80h1.90M249.30,223.05h1.00M249.30,220.30h1.00M249.30,217.55h1.00M248.40,214.80h1.90M249.30,212.05h1.00M249.30,209.30h1.00M249.30,206.55h1.00M248.40,203.80h1.90" fill="none" stroke="#a8a8a8" stroke-width="0.5" />
<line x1="250.3" y1="258.8" x2="326.3" y2="258.8" stroke="#8a8a8a" stroke-width="0.6" stroke-dasharray="0.8 0.6"/>
<line x1="251.0" y1="258.8" x2="251.0" y2="260.6" stroke="#8a8a8a" stroke-width="0.6" />
<line x1="267.6" y1="258.8" x2="267.6" y2="260.6" stroke="#8a8a8a" stroke-width="0.6" />
<line x1="284.2" y1="258.8" x2="284.2" y2="260.6" stroke="#8a8a8a" stroke-width="0.6" />
<line x1="300.8" y1="258.8" x2="300.8" y2="260.6" stroke="#8a8a8a" stroke-width="0.6" />
<line x1="317.4" y1="258.8" x2="317.4" y2="260.6" stroke="#8a8a8a" stroke-width="0.6" />
<path d="M276.60,258.8 L276.60,258.61 L276.85,258.53 L277.10,258.43 L277.35,258.29 L277.60,258.10 L277.85,257.86 L278.10,257.56 L278.35,257.21 L278.60,256.83 L278.85,256.42 L279.10,256.01 L279.35,255.64 L279.60,255.31 L279.85,255.04 L280.10,254.82 L280.35,254.65 L280.60,254.53 L280.85,254.43 L281.10,254.37 L281.35,254.32 L281.60,254.28 L281.85,254.26 L282.10,254.24 L282.35,254.23 L282.60,254.22 L282.85,254.22 L283.10,254.21 L283.35,254.21 L283.60,254.21 L283.85,254.21 L284.10,254.21 L284.35,254.21 L284.60,254.21 L284.85,254.21 L285.10,254.21 L285.35,254.21 L285.60,254.22 L285.85,254.22 L286.10,254.23 L286.35,254.24 L286.60,254.24 L286.85,254.26 L287.10,254.27 L287.35,254.29 L287.60,254.31 L287.85,254.33 L288.10,254.37 L288.35,254.41 L288.60,254.46 L288.85,254.52 L289.10,254.60 L289.35,254.69 L289.60,254.79 L289.85,254.92 L290.10,255.07 L290.35,255.24 L290.60,255.44 L290.85,255.65 L291.10,255.89 L291.35,256.14 L291.60,256.40 L291.85,256.66 L292.10,256.91 L292.35,257.16 L292.60,257.39 L292.85,257.60 L293.10,257.79 L293.35,257.96 L293.60,258.11 L293.85,258.23 L294.10,258.33 L294.35,258.42 L294.60,258.49 L294.85,258.55 L295.10,258.60 L295.35,258.64 L295.60,258.67 L295.85,258.70 L296.10,258.72 L296.35,258.73 L296.60,258.75 L296.85,258.76 L297.10,258.77 L297.35,258.77 L297.60,258.78 L297.85,258.78 L297.85,258.8 Z" fill="#cbc8f2" stroke="none" stroke-width="1" />
<path d="M269.20,258.8 L269.20,258.63 L269.40,258.56 L269.60,258.47 L269.80,258.34 L270.00,258.16 L270.20,257.94 L270.40,257.64 L270.60,257.26 L270.80,256.78 L271.00,256.19 L271.20,255.45 L271.40,254.54 L271.60,253.46 L271.80,252.17 L272.00,250.66 L272.20,248.92 L272.40,246.94 L272.60,244.71 L272.80,242.26 L273.00,239.59 L273.20,236.73 L273.40,233.74 L273.60,230.64 L273.80,227.52 L274.00,224.43 L274.20,221.45 L274.40,218.66 L274.60,216.14 L274.80,213.96 L275.00,212.18 L275.20,210.87 L275.40,210.07 L275.60,209.80 L275.80,210.07 L276.00,210.87 L276.20,212.18 L276.40,213.96 L276.60,216.14 L276.80,218.66 L277.00,221.45 L277.20,224.43 L277.40,227.52 L277.60,230.64 L277.80,233.74 L278.00,236.73 L278.20,239.59 L278.40,242.26 L278.60,244.71 L278.80,246.94 L279.00,248.92 L279.20,250.66 L279.40,252.17 L279.60,253.46 L279.80,254.54 L280.00,255.45 L280.20,256.19 L280.40,256.78 L280.60,257.26 L280.80,257.64 L281.00,257.94 L281.20,258.16 L281.40,258.34 L281.60,258.47 L281.80,258.56 L282.00,258.63 L282.00,258.8 Z" fill="#ff0000" stroke="none" stroke-width="1" />
<path d="M287.60,258.8 L287.60,258.45 L287.80,258.39 L288.00,258.32 L288.20,258.23 L288.40,258.14 L288.60,258.04 L288.80,257.92 L289.00,257.78 L289.20,257.64 L289.40,257.47 L289.60,257.29 L289.80,257.10 L290.00,256.89 L290.20,256.66 L290.40,256.41 L290.60,256.15 L290.80,255.87 L291.00,255.57 L291.20,255.26 L291.40,254.94 L291.60,254.61 L291.80,254.28 L292.00,253.93 L292.20,253.58 L292.40,253.24 L292.60,252.89 L292.80,252.56 L293.00,252.23 L293.20,251.91 L293.40,251.62 L293.60,251.34 L293.80,251.09 L294.00,250.86 L294.20,250.66 L294.40,250.50 L294.60,250.37 L294.80,250.28 L295.00,250.22 L295.20,250.20 L295.40,250.22 L295.60,250.28 L295.80,250.37 L296.00,250.50 L296.20,250.66 L296.40,250.86 L296.60,251.09 L296.80,251.34 L297.00,251.62 L297.20,251.91 L297.40,252.23 L297.60,252.56 L297.80,252.89 L298.00,253.24 L298.20,253.58 L298.40,253.93 L298.60,254.28 L298.80,254.61 L299.00,254.94 L299.20,255.26 L299.40,255.57 L299.60,255.87 L299.80,256.15 L300.00,256.41 L300.20,256.66 L300.40,256.89 L300.60,257.10 L300.80,257.29 L301.00,257.47 L301.20,257.64 L301.40,257.78 L301.60,257.92 L301.80,258.04 L302.00,258.14 L302.20,258.23 L302.40,258.32 L302.60,258.39 L302.80,258.45 L302.80,258.8 Z" fill="#ff0000" stroke="none" stroke-width="1" />
<path d="M271.10,258.8 Q276.60,254.30 279.80,254.20 L281.00,258.8 Z" fill="#c0001a" stroke="none" stroke-width="1" opacity="0.75"/>
<path d="M252.30,258.45 L252.55,258.45 L252.80,258.45 L253.05,258.45 L253.30,258.45 L253.55,258.45 L253.80,258.45 L254.05,258.45 L254.30,258.45 L254.55,258.45 L254.80,258.45 L255.05,258.45 L255.30,258.45 L255.55,258.45 L255.80,258.45 L256.05,258.45 L256.30,258.45 L256.55,258.45 L256.80,258.45 L257.05,258.45 L257.30,258.45 L257.55,258.45 L257.80,258.45 L258.05,258.45 L258.30,258.45 L258.55,258.45 L258.80,258.45 L259.05,258.45 L259.30,258.45 L259.55,258.45 L259.80,258.45 L260.05,258.45 L260.30,258.45 L260.55,258.45 L260.80,258.45 L261.05,258.45 L261.30,258.45 L261.55,258.45 L261.80,258.45 L262.05,258.45 L262.30,258.45 L262.55,258.45 L262.80,258.45 L263.05,258.45 L263.30,258.45 L263.55,258.45 L263.80,258.45 L264.05,258.45 L264.30,258.45 L264.55,258.45 L264.80,258.45 L265.05,258.45 L265.30,258.45 L265.55,258.45 L265.80,258.45 L266.05,258.45 L266.30,258.45 L266.55,258.45 L266.80,258.45 L267.05,258.45 L267.30,258.45 L267.55,258.45 L267.80,258.45 L268.05,258.44 L268.30,258.45 L268.55,258.45 L268.80,258.45 L269.05,258.45 L269.30,258.45 L269.55,258.42 L269.80,258.30 L270.05,258.03 L270.30,258.02 L270.55,257.60 L270.80,256.89 L271.05,255.72 L271.30,255.12 L271.55,253.68 L271.80,252.30 L272.05,250.52 L272.30,248.26 L272.55,245.07 L272.80,242.26 L273.05,238.89 L273.30,235.25 L273.55,231.42 L273.80,227.51 L274.05,223.66 L274.30,220.02 L274.55,215.07 L274.80,210.64 L275.05,207.13 L275.30,204.79 L275.55,203.78 L275.80,204.19 L276.05,205.98 L276.30,209.01 L276.55,213.04 L276.80,217.79 L277.05,221.83 L277.30,225.48 L277.55,229.20 L277.80,232.85 L278.05,236.29 L278.30,239.44 L278.55,242.23 L278.80,244.69 L279.05,246.90 L279.30,248.66 L279.55,249.84 L279.80,250.55 L280.05,251.37 L280.30,252.21 L280.55,252.92 L280.80,253.47 L281.05,253.26 L281.30,253.76 L281.55,253.77 L281.80,254.35 L282.05,254.29 L282.30,253.90 L282.55,253.95 L282.80,253.91 L283.05,254.12 L283.30,254.24 L283.55,254.14 L283.80,253.95 L284.05,254.33 L284.30,254.17 L284.55,254.35 L284.80,254.00 L285.05,254.53 L285.30,254.05 L285.55,253.85 L285.80,254.49 L286.05,254.08 L286.30,254.03 L286.55,253.86 L286.80,254.02 L287.05,254.22 L287.30,254.08 L287.55,253.65 L287.80,253.63 L288.05,254.11 L288.30,254.07 L288.55,254.00 L288.80,253.96 L289.05,253.56 L289.30,253.67 L289.55,253.05 L289.80,253.08 L290.05,253.33 L290.30,252.91 L290.55,252.93 L290.80,252.68 L291.05,252.73 L291.30,252.62 L291.55,252.46 L291.80,252.16 L292.05,251.76 L292.30,251.68 L292.55,251.84 L292.80,251.16 L293.05,250.83 L293.30,250.69 L293.55,250.46 L293.80,250.82 L294.05,250.32 L294.30,250.45 L294.55,249.85 L294.80,250.19 L295.05,249.78 L295.30,250.12 L295.55,249.87 L295.80,250.24 L296.05,250.59 L296.30,250.54 L296.55,250.82 L296.80,250.66 L297.05,251.36 L297.30,251.51 L297.55,251.77 L297.80,251.80 L298.05,252.69 L298.30,252.64 L298.55,252.99 L298.80,253.11 L299.05,253.22 L299.30,253.94 L299.55,253.92 L299.80,254.29 L300.05,254.51 L300.30,255.09 L300.55,254.78 L300.80,254.87 L301.05,255.50 L301.30,255.71 L301.55,255.40 L301.80,256.17 L302.05,256.32 L302.30,256.44 L302.55,256.03 L302.80,256.17 L303.05,256.47 L303.30,256.42 L303.55,256.91 L303.80,256.53 L304.05,256.72 L304.30,256.72 L304.55,256.85 L304.80,256.88 L305.05,257.04 L305.30,257.20 L305.55,256.96 L305.80,257.12 L306.05,256.83 L306.30,256.78 L306.55,256.87 L306.80,257.09 L307.05,257.27 L307.30,257.19 L307.55,257.14 L307.80,257.07 L308.05,256.86 L308.30,257.50 L308.55,257.25 L308.80,257.27 L309.05,257.13 L309.30,257.04 L309.55,257.14 L309.80,257.27 L310.05,257.20 L310.30,257.29 L310.55,257.18 L310.80,257.32 L311.05,257.36 L311.30,257.69 L311.55,257.24 L311.80,257.64 L312.05,257.50 L312.30,257.38 L312.55,257.31 L312.80,257.32 L313.05,258.03 L313.30,257.84 L313.55,257.87 L313.80,257.84 L314.05,258.03 L314.30,257.77 L314.55,258.13 L314.80,258.00 L315.05,257.57 L315.30,257.74 L315.55,257.96 L315.80,258.23 L316.05,257.67 L316.30,257.87 L316.55,258.24 L316.80,258.18 L317.05,257.99 L317.30,257.98 L317.55,258.30 L317.80,257.84 L318.05,258.31 L318.30,258.38 L318.55,257.99 L318.80,258.45 L319.05,258.16 L319.30,258.45 L319.55,258.27 L319.80,258.45 L320.05,258.45 L320.30,258.10 L320.55,258.45 L320.80,258.45 L321.05,258.40 L321.30,258.45 L321.55,258.45 L321.80,258.45 L322.05,258.45 L322.30,258.45 L322.55,258.31 L322.80,258.45 L323.05,258.45 L323.30,258.41 L323.55,258.45 L323.80,258.45 L324.05,258.45 L324.30,258.45 L324.55,258.45" fill="none" stroke="#5a5a5a" stroke-width="0.6" />
<path d="M251.85,258.45h0.9M253.10,258.45h0.9M254.35,258.45h0.9M255.60,258.45h0.9M256.85,258.45h0.9M258.10,258.45h0.9M259.35,258.45h0.9M260.60,258.45h0.9M261.85,258.45h0.9M263.10,258.45h0.9M264.35,258.45h0.9M265.60,258.45h0.9M266.85,258.45h0.9M268.10,258.45h0.9M269.35,258.30h0.9M270.60,255.72h0.9M271.85,248.26h0.9M278.10,242.23h0.9M279.35,250.55h0.9M280.60,253.26h0.9M281.85,253.90h0.9M283.10,254.14h0.9M284.35,254.00h0.9M285.60,254.08h0.9M286.85,254.08h0.9M288.10,254.00h0.9M289.35,253.08h0.9M290.60,252.73h0.9M291.85,251.68h0.9M293.10,250.46h0.9M294.35,250.19h0.9M295.60,250.59h0.9M296.85,251.51h0.9M298.10,252.99h0.9M299.35,254.29h0.9M300.60,255.50h0.9M301.85,256.44h0.9M303.10,256.91h0.9M304.35,256.88h0.9M305.60,256.83h0.9M306.85,257.19h0.9M308.10,257.25h0.9M309.35,257.27h0.9M310.60,257.36h0.9M311.85,257.38h0.9M313.10,257.87h0.9M314.35,258.00h0.9M315.60,257.67h0.9M316.85,257.98h0.9M318.10,257.99h0.9M319.35,258.45h0.9M320.60,258.40h0.9M321.85,258.45h0.9M323.10,258.45h0.9" fill="none" stroke="#111" stroke-width="0.8" opacity="0.55"/>
<path d="M275.4,259.2 L276.7,261.40000000000003 L274.09999999999997,261.40000000000003 Z" fill="#000" stroke="none" stroke-width="1" />
<line x1="330.2" y1="203.5" x2="330.2" y2="258.8" stroke="#9a9a9a" stroke-width="0.6" stroke-dasharray="0.7 0.7"/>
<path d="M328.30,258.80h1.90M329.20,256.05h1.00M329.20,253.30h1.00M329.20,250.55h1.00M328.30,247.80h1.90M329.20,245.05h1.00M329.20,242.30h1.00M329.20,239.55h1.00M328.30,236.80h1.90M329.20,234.05h1.00M329.20,231.30h1.00M329.20,228.55h1.00M328.30,225.80h1.90M329.20,223.05h1.00M329.20,220.30h1.00M329.20,217.55h1.00M328.30,214.80h1.90M329.20,212.05h1.00M329.20,209.30h1.00M329.20,206.55h1.00M328.30,203.80h1.90" fill="none" stroke="#a8a8a8" stroke-width="0.5" />
<line x1="330.2" y1="258.8" x2="406.2" y2="258.8" stroke="#8a8a8a" stroke-width="0.6" stroke-dasharray="0.8 0.6"/>
<line x1="330.9" y1="258.8" x2="330.9" y2="260.6" stroke="#8a8a8a" stroke-width="0.6" />
<line x1="347.5" y1="258.8" x2="347.5" y2="260.6" stroke="#8a8a8a" stroke-width="0.6" />
<line x1="364.09999999999997" y1="258.8" x2="364.09999999999997" y2="260.6" stroke="#8a8a8a" stroke-width="0.6" />
<line x1="380.7" y1="258.8" x2="380.7" y2="260.6" stroke="#8a8a8a" stroke-width="0.6" />
<line x1="397.29999999999995" y1="258.8" x2="397.29999999999995" y2="260.6" stroke="#8a8a8a" stroke-width="0.6" />
<path d="M357.30,258.8 L357.30,258.70 L357.55,258.67 L357.80,258.61 L358.05,258.54 L358.30,258.45 L358.55,258.33 L358.80,258.18 L359.05,258.01 L359.30,257.81 L359.55,257.61 L359.80,257.41 L360.05,257.22 L360.30,257.06 L360.55,256.92 L360.80,256.81 L361.05,256.73 L361.30,256.66 L361.55,256.62 L361.80,256.58 L362.05,256.56 L362.30,256.54 L362.55,256.53 L362.80,256.52 L363.05,256.51 L363.30,256.51 L363.55,256.51 L363.80,256.51 L364.05,256.50 L364.30,256.50 L364.55,256.50 L364.80,256.50 L365.05,256.50 L365.30,256.50 L365.55,256.50 L365.80,256.51 L366.05,256.51 L366.30,256.51 L366.55,256.51 L366.80,256.51 L367.05,256.51 L367.30,256.52 L367.55,256.52 L367.80,256.53 L368.05,256.54 L368.30,256.55 L368.55,256.56 L368.80,256.57 L369.05,256.59 L369.30,256.61 L369.55,256.64 L369.80,256.67 L370.05,256.71 L370.30,256.75 L370.55,256.81 L370.80,256.87 L371.05,256.95 L371.30,257.04 L371.55,257.14 L371.80,257.25 L372.05,257.37 L372.30,257.49 L372.55,257.62 L372.80,257.75 L373.05,257.88 L373.30,258.00 L373.55,258.12 L373.80,258.22 L374.05,258.31 L374.30,258.40 L374.55,258.47 L374.80,258.53 L375.05,258.58 L375.30,258.62 L375.55,258.65 L375.80,258.68 L376.05,258.70 L376.30,258.72 L376.55,258.74 L376.80,258.75 L377.05,258.76 L377.30,258.77 L377.55,258.77 L377.80,258.78 L378.05,258.78 L378.30,258.79 L378.55,258.79 L378.80,258.79 L378.80,258.8 Z" fill="#cbc8f2" stroke="none" stroke-width="1" />
<path d="M349.90,258.8 L349.90,258.64 L350.10,258.58 L350.30,258.49 L350.50,258.37 L350.70,258.21 L350.90,258.00 L351.10,257.72 L351.30,257.37 L351.50,256.93 L351.70,256.37 L351.90,255.68 L352.10,254.85 L352.30,253.84 L352.50,252.64 L352.70,251.24 L352.90,249.62 L353.10,247.78 L353.30,245.72 L353.50,243.44 L353.70,240.96 L353.90,238.31 L354.10,235.53 L354.30,232.65 L354.50,229.75 L354.70,226.88 L354.90,224.12 L355.10,221.53 L355.30,219.18 L355.50,217.16 L355.70,215.51 L355.90,214.30 L356.10,213.55 L356.30,213.30 L356.50,213.55 L356.70,214.30 L356.90,215.51 L357.10,217.16 L357.30,219.18 L357.50,221.53 L357.70,224.12 L357.90,226.88 L358.10,229.75 L358.30,232.65 L358.50,235.53 L358.70,238.31 L358.90,240.96 L359.10,243.44 L359.30,245.72 L359.50,247.78 L359.70,249.62 L359.90,251.24 L360.10,252.64 L360.30,253.84 L360.50,254.85 L360.70,255.68 L360.90,256.37 L361.10,256.93 L361.30,257.37 L361.50,257.72 L361.70,258.00 L361.90,258.21 L362.10,258.37 L362.30,258.49 L362.50,258.58 L362.70,258.64 L362.70,258.8 Z" fill="#ff0000" stroke="none" stroke-width="1" />
<path d="M368.50,258.8 L368.50,258.65 L368.70,258.62 L368.90,258.59 L369.10,258.55 L369.30,258.51 L369.50,258.46 L369.70,258.41 L369.90,258.35 L370.10,258.29 L370.30,258.21 L370.50,258.13 L370.70,258.05 L370.90,257.95 L371.10,257.85 L371.30,257.74 L371.50,257.63 L371.70,257.50 L371.90,257.37 L372.10,257.24 L372.30,257.10 L372.50,256.95 L372.70,256.80 L372.90,256.65 L373.10,256.50 L373.30,256.34 L373.50,256.19 L373.70,256.04 L373.90,255.90 L374.10,255.76 L374.30,255.63 L374.50,255.50 L374.70,255.39 L374.90,255.29 L375.10,255.21 L375.30,255.13 L375.50,255.08 L375.70,255.03 L375.90,255.01 L376.10,255.00 L376.30,255.01 L376.50,255.03 L376.70,255.08 L376.90,255.13 L377.10,255.21 L377.30,255.29 L377.50,255.39 L377.70,255.50 L377.90,255.63 L378.10,255.76 L378.30,255.90 L378.50,256.04 L378.70,256.19 L378.90,256.34 L379.10,256.50 L379.30,256.65 L379.50,256.80 L379.70,256.95 L379.90,257.10 L380.10,257.24 L380.30,257.37 L380.50,257.50 L380.70,257.63 L380.90,257.74 L381.10,257.85 L381.30,257.95 L381.50,258.05 L381.70,258.13 L381.90,258.21 L382.10,258.29 L382.30,258.35 L382.50,258.41 L382.70,258.46 L382.90,258.51 L383.10,258.55 L383.30,258.59 L383.50,258.62 L383.70,258.65 L383.70,258.8 Z" fill="#ff0000" stroke="none" stroke-width="1" />
<path d="M351.80,258.8 Q357.30,254.30 360.50,254.20 L361.70,258.8 Z" fill="#c0001a" stroke="none" stroke-width="1" opacity="0.75"/>
<path d="M332.20,258.45 L332.45,258.45 L332.70,258.45 L332.95,258.45 L333.20,258.45 L333.45,258.45 L333.70,258.45 L333.95,258.45 L334.20,258.45 L334.45,258.45 L334.70,258.45 L334.95,258.45 L335.20,258.45 L335.45,258.45 L335.70,258.45 L335.95,258.45 L336.20,258.45 L336.45,258.45 L336.70,258.45 L336.95,258.45 L337.20,258.45 L337.45,258.45 L337.70,258.45 L337.95,258.45 L338.20,258.45 L338.45,258.45 L338.70,258.45 L338.95,258.45 L339.20,258.45 L339.45,258.45 L339.70,258.45 L339.95,258.45 L340.20,258.45 L340.45,258.45 L340.70,258.45 L340.95,258.45 L341.20,258.45 L341.45,258.45 L341.70,258.45 L341.95,258.45 L342.20,258.45 L342.45,258.45 L342.70,258.45 L342.95,258.45 L343.20,258.45 L343.45,258.45 L343.70,258.45 L343.95,258.45 L344.20,258.45 L344.45,258.45 L344.70,258.45 L344.95,258.45 L345.20,258.45 L345.45,258.45 L345.70,258.45 L345.95,258.45 L346.20,258.45 L346.45,258.45 L346.70,258.45 L346.95,258.45 L347.20,258.45 L347.45,258.45 L347.70,258.45 L347.95,258.45 L348.20,258.45 L348.45,258.45 L348.70,258.45 L348.95,258.45 L349.20,258.45 L349.45,258.45 L349.70,258.45 L349.95,258.45 L350.20,258.45 L350.45,258.45 L350.70,258.43 L350.95,258.26 L351.20,257.54 L351.45,256.84 L351.70,256.27 L351.95,255.70 L352.20,254.23 L352.45,253.27 L352.70,251.30 L352.95,248.95 L353.20,246.48 L353.45,244.03 L353.70,240.96 L353.95,237.62 L354.20,234.10 L354.45,230.48 L354.70,226.88 L354.95,223.45 L355.20,218.76 L355.45,214.48 L355.70,211.01 L355.95,208.58 L356.20,207.39 L356.45,207.51 L356.70,208.95 L356.95,211.58 L357.20,215.21 L357.45,219.57 L357.70,223.95 L357.95,227.37 L358.20,230.89 L358.45,234.39 L358.70,237.75 L358.95,240.88 L359.20,243.70 L359.45,245.85 L359.70,248.41 L359.95,250.37 L360.20,251.78 L360.45,252.95 L360.70,253.48 L360.95,254.70 L361.20,255.21 L361.45,255.76 L361.70,255.81 L361.95,256.23 L362.20,256.29 L362.45,256.13 L362.70,256.07 L362.95,256.18 L363.20,256.77 L363.45,256.56 L363.70,256.24 L363.95,256.82 L364.20,256.70 L364.45,256.50 L364.70,256.58 L364.95,256.32 L365.20,256.34 L365.45,256.52 L365.70,256.67 L365.95,256.68 L366.20,256.65 L366.45,256.79 L366.70,256.37 L366.95,256.72 L367.20,256.20 L367.45,256.36 L367.70,256.76 L367.95,256.44 L368.20,256.35 L368.45,256.72 L368.70,256.39 L368.95,256.69 L369.20,256.14 L369.45,256.65 L369.70,256.17 L369.95,255.88 L370.20,255.94 L370.45,256.33 L370.70,256.07 L370.95,256.30 L371.20,256.11 L371.45,255.70 L371.70,255.68 L371.95,256.20 L372.20,255.89 L372.45,255.66 L372.70,255.93 L372.95,255.43 L373.20,255.29 L373.45,255.46 L373.70,255.51 L373.95,255.08 L374.20,255.23 L374.45,255.37 L374.70,255.23 L374.95,255.24 L375.20,254.70 L375.45,254.87 L375.70,254.71 L375.95,254.60 L376.20,254.49 L376.45,255.06 L376.70,254.94 L376.95,254.66 L377.20,254.80 L377.45,255.13 L377.70,255.02 L377.95,255.42 L378.20,255.52 L378.45,255.67 L378.70,255.50 L378.95,255.66 L379.20,255.51 L379.45,255.24 L379.70,255.86 L379.95,255.61 L380.20,255.44 L380.45,255.67 L380.70,255.78 L380.95,255.66 L381.20,256.25 L381.45,255.67 L381.70,255.92 L381.95,255.90 L382.20,255.96 L382.45,256.54 L382.70,256.62 L382.95,256.60 L383.20,256.43 L383.45,256.18 L383.70,256.25 L383.95,256.65 L384.20,256.55 L384.45,256.50 L384.70,256.83 L384.95,256.42 L385.20,256.47 L385.45,256.65 L385.70,256.56 L385.95,256.66 L386.20,256.79 L386.45,257.05 L386.70,257.11 L386.95,257.16 L387.20,257.32 L387.45,256.73 L387.70,257.20 L387.95,257.42 L388.20,257.24 L388.45,257.41 L388.70,257.20 L388.95,257.30 L389.20,257.44 L389.45,257.25 L389.70,257.32 L389.95,257.39 L390.20,257.09 L390.45,257.47 L390.70,257.33 L390.95,257.12 L391.20,257.09 L391.45,257.52 L391.70,257.78 L391.95,257.17 L392.20,257.50 L392.45,257.73 L392.70,257.82 L392.95,257.77 L393.20,257.74 L393.45,257.89 L393.70,257.98 L393.95,257.34 L394.20,257.49 L394.45,258.01 L394.70,257.77 L394.95,257.57 L395.20,257.81 L395.45,258.14 L395.70,257.97 L395.95,257.97 L396.20,257.62 L396.45,257.88 L396.70,257.99 L396.95,257.89 L397.20,258.33 L397.45,257.90 L397.70,257.84 L397.95,257.97 L398.20,258.21 L398.45,258.28 L398.70,258.45 L398.95,258.45 L399.20,258.45 L399.45,258.27 L399.70,258.07 L399.95,258.45 L400.20,258.33 L400.45,258.24 L400.70,258.27 L400.95,258.45 L401.20,258.12 L401.45,258.38 L401.70,258.45 L401.95,258.45 L402.20,258.38 L402.45,258.23 L402.70,258.45 L402.95,258.45 L403.20,258.45 L403.45,258.45 L403.70,258.45 L403.95,258.39 L404.20,258.45 L404.45,258.45" fill="none" stroke="#5a5a5a" stroke-width="0.6" />
<path d="M331.75,258.45h0.9M333.00,258.45h0.9M334.25,258.45h0.9M335.50,258.45h0.9M336.75,258.45h0.9M338.00,258.45h0.9M339.25,258.45h0.9M340.50,258.45h0.9M341.75,258.45h0.9M343.00,258.45h0.9M344.25,258.45h0.9M345.50,258.45h0.9M346.75,258.45h0.9M348.00,258.45h0.9M349.25,258.45h0.9M350.50,258.26h0.9M351.75,254.23h0.9M353.00,244.03h0.9M359.25,248.41h0.9M360.50,254.70h0.9M361.75,256.29h0.9M363.00,256.56h0.9M364.25,256.58h0.9M365.50,256.68h0.9M366.75,256.20h0.9M368.00,256.72h0.9M369.25,256.17h0.9M370.50,256.30h0.9M371.75,255.89h0.9M373.00,255.46h0.9M374.25,255.23h0.9M375.50,254.60h0.9M376.75,254.80h0.9M378.00,255.67h0.9M379.25,255.86h0.9M380.50,255.66h0.9M381.75,255.96h0.9M383.00,256.18h0.9M384.25,256.83h0.9M385.50,256.66h0.9M386.75,257.32h0.9M388.00,257.41h0.9M389.25,257.32h0.9M390.50,257.12h0.9M391.75,257.50h0.9M393.00,257.89h0.9M394.25,257.77h0.9M395.50,257.97h0.9M396.75,258.33h0.9M398.00,258.28h0.9M399.25,258.07h0.9M400.50,258.45h0.9M401.75,258.38h0.9M403.00,258.45h0.9" fill="none" stroke="#111" stroke-width="0.8" opacity="0.55"/>
<path d="M356.2,259.2 L357.5,261.40000000000003 L354.9,261.40000000000003 Z" fill="#000" stroke="none" stroke-width="1" />
<line x1="409.2" y1="203.5" x2="409.2" y2="258.8" stroke="#9a9a9a" stroke-width="0.6" stroke-dasharray="0.7 0.7"/>
<path d="M407.30,258.80h1.90M408.20,256.05h1.00M408.20,253.30h1.00M408.20,250.55h1.00M407.30,247.80h1.90M408.20,245.05h1.00M408.20,242.30h1.00M408.20,239.55h1.00M407.30,236.80h1.90M408.20,234.05h1.00M408.20,231.30h1.00M408.20,228.55h1.00M407.30,225.80h1.90M408.20,223.05h1.00M408.20,220.30h1.00M408.20,217.55h1.00M407.30,214.80h1.90M408.20,212.05h1.00M408.20,209.30h1.00M408.20,206.55h1.00M407.30,203.80h1.90" fill="none" stroke="#a8a8a8" stroke-width="0.5" />
<line x1="409.2" y1="258.8" x2="485.2" y2="258.8" stroke="#8a8a8a" stroke-width="0.6" stroke-dasharray="0.8 0.6"/>
<line x1="409.9" y1="258.8" x2="409.9" y2="260.6" stroke="#8a8a8a" stroke-width="0.6" />
<line x1="426.5" y1="258.8" x2="426.5" y2="260.6" stroke="#8a8a8a" stroke-width="0.6" />
<line x1="443.09999999999997" y1="258.8" x2="443.09999999999997" y2="260.6" stroke="#8a8a8a" stroke-width="0.6" />
<line x1="459.7" y1="258.8" x2="459.7" y2="260.6" stroke="#8a8a8a" stroke-width="0.6" />
<line x1="476.29999999999995" y1="258.8" x2="476.29999999999995" y2="260.6" stroke="#8a8a8a" stroke-width="0.6" />
<path d="M435.30,258.8 L435.30,258.67 L435.55,258.61 L435.80,258.54 L436.05,258.44 L436.30,258.31 L436.55,258.14 L436.80,257.94 L437.05,257.70 L437.30,257.43 L437.55,257.14 L437.80,256.86 L438.05,256.60 L438.30,256.37 L438.55,256.18 L438.80,256.03 L439.05,255.92 L439.30,255.83 L439.55,255.76 L439.80,255.72 L440.05,255.68 L440.30,255.66 L440.55,255.64 L440.80,255.63 L441.05,255.62 L441.30,255.62 L441.55,255.61 L441.80,255.61 L442.05,255.61 L442.30,255.61 L442.55,255.61 L442.80,255.61 L443.05,255.61 L443.30,255.61 L443.55,255.61 L443.80,255.61 L444.05,255.61 L444.30,255.62 L444.55,255.62 L444.80,255.63 L445.05,255.63 L445.30,255.64 L445.55,255.65 L445.80,255.66 L446.05,255.68 L446.30,255.70 L446.55,255.72 L446.80,255.75 L447.05,255.79 L447.30,255.83 L447.55,255.89 L447.80,255.95 L448.05,256.03 L448.30,256.12 L448.55,256.23 L448.80,256.35 L449.05,256.49 L449.30,256.64 L449.55,256.81 L449.80,256.98 L450.05,257.16 L450.30,257.35 L450.55,257.52 L450.80,257.69 L451.05,257.85 L451.30,258.00 L451.55,258.12 L451.80,258.24 L452.05,258.34 L452.30,258.42 L452.55,258.49 L452.80,258.55 L453.05,258.60 L453.30,258.63 L453.55,258.67 L453.80,258.69 L454.05,258.71 L454.30,258.73 L454.55,258.74 L454.80,258.76 L455.05,258.76 L455.30,258.77 L455.55,258.78 L455.80,258.78 L456.05,258.79 L456.30,258.79 L456.30,258.8 Z" fill="#cbc8f2" stroke="none" stroke-width="1" />
<path d="M427.90,258.8 L427.90,258.64 L428.10,258.57 L428.30,258.48 L428.50,258.35 L428.70,258.18 L428.90,257.96 L429.10,257.68 L429.30,257.31 L429.50,256.85 L429.70,256.27 L429.90,255.55 L430.10,254.67 L430.30,253.62 L430.50,252.37 L430.70,250.91 L430.90,249.22 L431.10,247.30 L431.30,245.14 L431.50,242.76 L431.70,240.18 L431.90,237.41 L432.10,234.50 L432.30,231.50 L432.50,228.47 L432.70,225.48 L432.90,222.59 L433.10,219.89 L433.30,217.44 L433.50,215.33 L433.70,213.61 L433.90,212.34 L434.10,211.56 L434.30,211.30 L434.50,211.56 L434.70,212.34 L434.90,213.61 L435.10,215.33 L435.30,217.44 L435.50,219.89 L435.70,222.59 L435.90,225.48 L436.10,228.47 L436.30,231.50 L436.50,234.50 L436.70,237.41 L436.90,240.18 L437.10,242.76 L437.30,245.14 L437.50,247.30 L437.70,249.22 L437.90,250.91 L438.10,252.37 L438.30,253.62 L438.50,254.67 L438.70,255.55 L438.90,256.27 L439.10,256.85 L439.30,257.31 L439.50,257.68 L439.70,257.96 L439.90,258.18 L440.10,258.35 L440.30,258.48 L440.50,258.57 L440.70,258.64 L440.70,258.8 Z" fill="#ff0000" stroke="none" stroke-width="1" />
<path d="M446.00,258.8 L446.00,258.53 L446.20,258.48 L446.40,258.42 L446.60,258.35 L446.80,258.28 L447.00,258.20 L447.20,258.10 L447.40,258.00 L447.60,257.88 L447.80,257.75 L448.00,257.61 L448.20,257.45 L448.40,257.29 L448.60,257.10 L448.80,256.91 L449.00,256.70 L449.20,256.48 L449.40,256.25 L449.60,256.00 L449.80,255.75 L450.00,255.49 L450.20,255.22 L450.40,254.95 L450.60,254.68 L450.80,254.40 L451.00,254.13 L451.20,253.86 L451.40,253.60 L451.60,253.35 L451.80,253.12 L452.00,252.90 L452.20,252.70 L452.40,252.52 L452.60,252.37 L452.80,252.24 L453.00,252.13 L453.20,252.06 L453.40,252.02 L453.60,252.00 L453.80,252.02 L454.00,252.06 L454.20,252.13 L454.40,252.24 L454.60,252.37 L454.80,252.52 L455.00,252.70 L455.20,252.90 L455.40,253.12 L455.60,253.35 L455.80,253.60 L456.00,253.86 L456.20,254.13 L456.40,254.40 L456.60,254.68 L456.80,254.95 L457.00,255.22 L457.20,255.49 L457.40,255.75 L457.60,256.00 L457.80,256.25 L458.00,256.48 L458.20,256.70 L458.40,256.91 L458.60,257.10 L458.80,257.29 L459.00,257.45 L459.20,257.61 L459.40,257.75 L459.60,257.88 L459.80,258.00 L460.00,258.10 L460.20,258.20 L460.40,258.28 L460.60,258.35 L460.80,258.42 L461.00,258.48 L461.20,258.53 L461.20,258.8 Z" fill="#ff0000" stroke="none" stroke-width="1" />
<path d="M429.80,258.8 Q435.30,254.30 438.50,254.20 L439.70,258.8 Z" fill="#c0001a" stroke="none" stroke-width="1" opacity="0.75"/>
<path d="M411.20,258.45 L411.45,258.45 L411.70,258.45 L411.95,258.45 L412.20,258.45 L412.45,258.45 L412.70,258.45 L412.95,258.45 L413.20,258.45 L413.45,258.45 L413.70,258.45 L413.95,258.45 L414.20,258.45 L414.45,258.45 L414.70,258.45 L414.95,258.45 L415.20,258.45 L415.45,258.45 L415.70,258.45 L415.95,258.45 L416.20,258.45 L416.45,258.45 L416.70,258.45 L416.95,258.45 L417.20,258.45 L417.45,258.45 L417.70,258.45 L417.95,258.45 L418.20,258.45 L418.45,258.45 L418.70,258.45 L418.95,258.45 L419.20,258.45 L419.45,258.45 L419.70,258.45 L419.95,258.45 L420.20,258.45 L420.45,258.45 L420.70,258.45 L420.95,258.45 L421.20,258.45 L421.45,258.45 L421.70,258.45 L421.95,258.45 L422.20,258.45 L422.45,258.45 L422.70,258.45 L422.95,258.45 L423.20,258.45 L423.45,258.45 L423.70,258.45 L423.95,258.45 L424.20,258.45 L424.45,258.45 L424.70,258.45 L424.95,258.45 L425.20,258.45 L425.45,258.45 L425.70,258.45 L425.95,258.45 L426.20,258.45 L426.45,258.45 L426.70,258.45 L426.95,258.45 L427.20,258.45 L427.45,258.40 L427.70,258.45 L427.95,258.45 L428.20,258.45 L428.45,258.17 L428.70,258.05 L428.95,257.57 L429.20,257.29 L429.45,256.66 L429.70,256.24 L429.95,255.00 L430.20,254.00 L430.45,252.81 L430.70,250.58 L430.95,248.85 L431.20,246.46 L431.45,243.38 L431.70,240.18 L431.95,236.69 L432.20,233.01 L432.45,229.23 L432.70,225.48 L432.95,221.89 L433.20,217.20 L433.45,212.76 L433.70,209.15 L433.95,206.63 L434.20,205.38 L434.45,205.51 L434.70,206.99 L434.95,209.72 L435.20,213.48 L435.45,218.01 L435.70,222.37 L435.95,225.91 L436.20,229.56 L436.45,233.18 L436.70,236.64 L436.95,239.84 L437.20,242.72 L437.45,245.42 L437.70,247.54 L437.95,249.26 L438.20,250.49 L438.45,251.84 L438.70,252.80 L438.95,253.35 L439.20,254.43 L439.45,254.49 L439.70,255.01 L439.95,255.08 L440.20,255.05 L440.45,255.57 L440.70,255.15 L440.95,255.81 L441.20,255.51 L441.45,255.54 L441.70,255.77 L441.95,255.55 L442.20,255.61 L442.45,255.63 L442.70,255.44 L442.95,255.94 L443.20,255.68 L443.45,255.39 L443.70,255.83 L443.95,255.32 L444.20,255.77 L444.45,255.43 L444.70,255.77 L444.95,255.56 L445.20,255.56 L445.45,255.77 L445.70,255.31 L445.95,255.42 L446.20,255.23 L446.45,255.29 L446.70,255.22 L446.95,255.17 L447.20,255.26 L447.45,254.75 L447.70,255.23 L447.95,254.58 L448.20,254.48 L448.45,254.63 L448.70,254.31 L448.95,254.26 L449.20,254.19 L449.45,254.27 L449.70,254.12 L449.95,253.95 L450.20,253.83 L450.45,253.21 L450.70,253.47 L450.95,253.26 L451.20,253.05 L451.45,252.58 L451.70,252.63 L451.95,252.40 L452.20,252.44 L452.45,252.27 L452.70,252.28 L452.95,252.09 L453.20,251.99 L453.45,251.54 L453.70,251.79 L453.95,252.11 L454.20,251.94 L454.45,252.29 L454.70,252.12 L454.95,252.37 L455.20,252.26 L455.45,252.88 L455.70,252.68 L455.95,253.32 L456.20,253.02 L456.45,253.47 L456.70,254.09 L456.95,253.75 L457.20,254.31 L457.45,254.43 L457.70,254.76 L457.95,254.46 L458.20,255.16 L458.45,254.87 L458.70,255.28 L458.95,255.24 L459.20,255.67 L459.45,255.97 L459.70,255.52 L459.95,255.83 L460.20,256.28 L460.45,255.82 L460.70,255.97 L460.95,256.56 L461.20,256.76 L461.45,256.41 L461.70,256.81 L461.95,256.45 L462.20,256.68 L462.45,256.56 L462.70,256.70 L462.95,256.60 L463.20,256.60 L463.45,256.79 L463.70,256.83 L463.95,257.04 L464.20,257.20 L464.45,257.26 L464.70,256.75 L464.95,257.24 L465.20,257.11 L465.45,257.21 L465.70,257.02 L465.95,257.11 L466.20,256.91 L466.45,257.23 L466.70,257.31 L466.95,257.13 L467.20,257.09 L467.45,256.99 L467.70,257.44 L467.95,257.06 L468.20,257.02 L468.45,257.05 L468.70,257.67 L468.95,257.52 L469.20,257.27 L469.45,257.25 L469.70,257.83 L469.95,257.61 L470.20,257.40 L470.45,257.40 L470.70,257.59 L470.95,257.84 L471.20,257.73 L471.45,257.99 L471.70,257.84 L471.95,257.79 L472.20,257.53 L472.45,257.72 L472.70,257.87 L472.95,258.01 L473.20,257.99 L473.45,257.77 L473.70,257.95 L473.95,258.16 L474.20,257.73 L474.45,257.93 L474.70,257.68 L474.95,258.01 L475.20,257.97 L475.45,258.14 L475.70,258.03 L475.95,257.84 L476.20,257.82 L476.45,258.07 L476.70,258.26 L476.95,258.45 L477.20,258.02 L477.45,258.36 L477.70,258.39 L477.95,258.45 L478.20,258.45 L478.45,258.45 L478.70,258.08 L478.95,258.27 L479.20,258.31 L479.45,258.37 L479.70,258.45 L479.95,258.45 L480.20,258.45 L480.45,258.45 L480.70,258.45 L480.95,258.45 L481.20,258.45 L481.45,258.45 L481.70,258.45 L481.95,258.45 L482.20,258.45 L482.45,258.45 L482.70,258.45 L482.95,258.45 L483.20,258.45 L483.45,258.45" fill="none" stroke="#5a5a5a" stroke-width="0.6" />
<path d="M410.75,258.45h0.9M412.00,258.45h0.9M413.25,258.45h0.9M414.50,258.45h0.9M415.75,258.45h0.9M417.00,258.45h0.9M418.25,258.45h0.9M419.50,258.45h0.9M420.75,258.45h0.9M422.00,258.45h0.9M423.25,258.45h0.9M424.50,258.45h0.9M425.75,258.45h0.9M427.00,258.40h0.9M428.25,258.05h0.9M429.50,255.00h0.9M430.75,246.46h0.9M437.00,245.42h0.9M438.25,252.80h0.9M439.50,255.08h0.9M440.75,255.51h0.9M442.00,255.63h0.9M443.25,255.83h0.9M444.50,255.56h0.9M445.75,255.23h0.9M447.00,254.75h0.9M448.25,254.31h0.9M449.50,253.95h0.9M450.75,253.05h0.9M452.00,252.27h0.9M453.25,251.79h0.9M454.50,252.37h0.9M455.75,253.02h0.9M457.00,254.43h0.9M458.25,255.28h0.9M459.50,255.83h0.9M460.75,256.76h0.9M462.00,256.56h0.9M463.25,256.83h0.9M464.50,257.24h0.9M465.75,256.91h0.9M467.00,256.99h0.9M468.25,257.67h0.9M469.50,257.61h0.9M470.75,257.73h0.9M472.00,257.72h0.9M473.25,257.95h0.9M474.50,258.01h0.9M475.75,257.82h0.9M477.00,258.36h0.9M478.25,258.08h0.9M479.50,258.45h0.9M480.75,258.45h0.9M482.00,258.45h0.9" fill="none" stroke="#111" stroke-width="0.8" opacity="0.55"/>
<path d="M434.1,259.2 L435.40000000000003,261.40000000000003 L432.8,261.40000000000003 Z" fill="#000" stroke="none" stroke-width="1" />
<path d="M453.6,259.2 L454.90000000000003,261.40000000000003 L452.3,261.40000000000003 Z" fill="#000" stroke="none" stroke-width="1" />
<text x="372.0" y="275.7" font-size="11.05" text-anchor="middle" fill="#111" >RED Fluorescence Area(RED-A)</text>
<text x="315.0" y="292.6" font-size="10.9" text-anchor="end" fill="#111" >G1: 59.78%</text>
<text x="383.4" y="292.6" font-size="10.9" text-anchor="end" fill="#111" >74.25%</text>
<text x="456.0" y="292.6" font-size="10.9" text-anchor="end" fill="#111" >68.25%</text>
<text x="315.0" y="305.25" font-size="10.9" text-anchor="end" fill="#111" >S: 20.35%</text>
<text x="383.4" y="305.25" font-size="10.9" text-anchor="end" fill="#111" >13.73%</text>
<text x="456.0" y="305.25" font-size="10.9" text-anchor="end" fill="#111" >13.83%</text>
<text x="315.0" y="317.90000000000003" font-size="10.9" text-anchor="end" fill="#111" >G2/M: 19.87%</text>
<text x="383.4" y="317.90000000000003" font-size="10.9" text-anchor="end" fill="#111" >12.02%</text>
<text x="456.0" y="317.90000000000003" font-size="10.9" text-anchor="end" fill="#111" >17.91%</text>
<line x1="532.7" y1="179.70000000000002" x2="532.7" y2="302.1" stroke="#3a3a3a" stroke-width="1" />
<line x1="532.7" y1="302.1" x2="646.7" y2="302.1" stroke="#3a3a3a" stroke-width="1.2" />
<text x="529.9" y="308.1" font-size="10.9" text-anchor="end" fill="#111" >0</text>
<line x1="532.7" y1="286.8" x2="536.8" y2="286.8" stroke="#3a3a3a" stroke-width="1" />
<text x="529.9" y="290.8" font-size="10.9" text-anchor="end" fill="#111" >10</text>
<line x1="532.7" y1="271.5" x2="536.8" y2="271.5" stroke="#3a3a3a" stroke-width="1" />
<text x="529.9" y="275.5" font-size="10.9" text-anchor="end" fill="#111" >20</text>
<line x1="532.7" y1="256.20000000000005" x2="536.8" y2="256.20000000000005" stroke="#3a3a3a" stroke-width="1" />
<text x="529.9" y="260.20000000000005" font-size="10.9" text-anchor="end" fill="#111" >30</text>
<line x1="532.7" y1="240.90000000000003" x2="536.8" y2="240.90000000000003" stroke="#3a3a3a" stroke-width="1" />
<text x="529.9" y="244.90000000000003" font-size="10.9" text-anchor="end" fill="#111" >40</text>
<line x1="532.7" y1="225.60000000000002" x2="536.8" y2="225.60000000000002" stroke="#3a3a3a" stroke-width="1" />
<text x="529.9" y="229.60000000000002" font-size="10.9" text-anchor="end" fill="#111" >50</text>
<line x1="532.7" y1="210.3" x2="536.8" y2="210.3" stroke="#3a3a3a" stroke-width="1" />
<text x="529.9" y="214.3" font-size="10.9" text-anchor="end" fill="#111" >60</text>
<line x1="532.7" y1="195.0" x2="536.8" y2="195.0" stroke="#3a3a3a" stroke-width="1" />
<text x="529.9" y="199.0" font-size="10.9" text-anchor="end" fill="#111" >70</text>
<line x1="532.7" y1="179.70000000000002" x2="536.8" y2="179.70000000000002" stroke="#3a3a3a" stroke-width="1" />
<text x="529.9" y="183.70000000000002" font-size="10.9" text-anchor="end" fill="#111" >80</text>
<text transform="translate(509.8,243.8) rotate(-90)" font-size="10.9" text-anchor="middle" fill="#111" >Cell cycle distribution (%)</text>
<line x1="542.9" y1="207.54600000000002" x2="542.9" y2="210.45300000000003" stroke="#222" stroke-width="1" />
<line x1="540.2" y1="207.54600000000002" x2="545.6" y2="207.54600000000002" stroke="#222" stroke-width="1.2" />
<rect x="538.6" y="210.45300000000003" width="8.6" height="91.64699999999999" fill="#0070c0" />
<line x1="551.5" y1="188.88000000000002" x2="551.5" y2="191.02200000000005" stroke="#222" stroke-width="1" />
<line x1="548.8000000000001" y1="188.88000000000002" x2="554.2" y2="188.88000000000002" stroke="#222" stroke-width="1.2" />
<rect x="547.2" y="191.02200000000005" width="8.6" height="111.07799999999997" fill="#ed7d31" />
<line x1="560.1" y1="199.437" x2="560.1" y2="201.42600000000004" stroke="#222" stroke-width="1" />
<line x1="557.4000000000001" y1="199.437" x2="562.8000000000001" y2="199.437" stroke="#222" stroke-width="1.2" />
<rect x="555.8000000000001" y="201.42600000000004" width="8.6" height="100.67399999999998" fill="#a5a5a5" />
<line x1="581.0999999999999" y1="267.216" x2="581.0999999999999" y2="270.582" stroke="#222" stroke-width="1" />
<line x1="578.4" y1="267.216" x2="583.8" y2="267.216" stroke="#222" stroke-width="1.2" />
<rect x="576.8" y="270.582" width="8.6" height="31.51800000000003" fill="#0070c0" />
<line x1="589.6999999999999" y1="278.079" x2="589.6999999999999" y2="279.60900000000004" stroke="#222" stroke-width="1" />
<line x1="587.0" y1="278.079" x2="592.4" y2="278.079" stroke="#222" stroke-width="1.2" />
<rect x="585.4" y="279.60900000000004" width="8.6" height="22.490999999999985" fill="#ed7d31" />
<line x1="598.3" y1="275.019" x2="598.3" y2="278.079" stroke="#222" stroke-width="1" />
<line x1="595.6" y1="275.019" x2="601.0" y2="275.019" stroke="#222" stroke-width="1.2" />
<rect x="594.0" y="278.079" width="8.6" height="24.021000000000015" fill="#a5a5a5" />
<line x1="619.3" y1="268.74600000000004" x2="619.3" y2="272.112" stroke="#222" stroke-width="1" />
<line x1="616.6" y1="268.74600000000004" x2="622.0" y2="268.74600000000004" stroke="#222" stroke-width="1.2" />
<rect x="615.0" y="272.112" width="8.6" height="29.988" fill="#0070c0" />
<line x1="627.9" y1="280.98600000000005" x2="627.9" y2="283.12800000000004" stroke="#222" stroke-width="1" />
<line x1="625.2" y1="280.98600000000005" x2="630.6" y2="280.98600000000005" stroke="#222" stroke-width="1.2" />
<rect x="623.6" y="283.12800000000004" width="8.6" height="18.97199999999998" fill="#ed7d31" />
<line x1="636.5" y1="271.80600000000004" x2="636.5" y2="273.94800000000004" stroke="#222" stroke-width="1" />
<line x1="633.8000000000001" y1="271.80600000000004" x2="639.2" y2="271.80600000000004" stroke="#222" stroke-width="1.2" />
<rect x="632.2" y="273.94800000000004" width="8.6" height="28.151999999999987" fill="#a5a5a5" />
<text x="551.5" y="190.4" font-size="10" text-anchor="middle" fill="#111" stroke="#1a1a1a" stroke-width="0.3">**</text>
<text x="560.9" y="201.3" font-size="10" text-anchor="middle" fill="#111" stroke="#1a1a1a" stroke-width="0.3">*</text>
<text x="590.0" y="279.6" font-size="10" text-anchor="middle" fill="#111" stroke="#1a1a1a" stroke-width="0.3">**</text>
<text x="598.6" y="276.5" font-size="10" text-anchor="middle" fill="#111" stroke="#1a1a1a" stroke-width="0.3">*</text>
<text x="551.6" y="313.9" font-size="10.9" text-anchor="middle" fill="#111" >G1</text>
<text x="588.3" y="313.9" font-size="10.9" text-anchor="middle" fill="#111" >S</text>
<text x="628.9" y="313.9" font-size="10.9" text-anchor="middle" fill="#111" >G2/M</text>
<text x="590.6" y="329.0" font-size="10.9" text-anchor="middle" fill="#111" >A549</text>
<rect x="576.6" y="186.6" width="5.6" height="5.3" fill="#0070c0" />
<rect x="576.6" y="195.2" width="5.6" height="5.3" fill="#ed7d31" />
<rect x="576.6" y="203.5" width="5.6" height="5.3" fill="#a5a5a5" />
<text x="584.6" y="190.8" font-size="10.9" text-anchor="start" fill="#111" >sh-ctrl</text>
<text x="584.6" y="199.6" font-size="10.9" text-anchor="start" fill="#111" >sh-TRMP#1</text>
<text x="584.6" y="208.5" font-size="10.9" text-anchor="start" fill="#111" >sh-TRMP#2</text>
</svg>
</body></html>
